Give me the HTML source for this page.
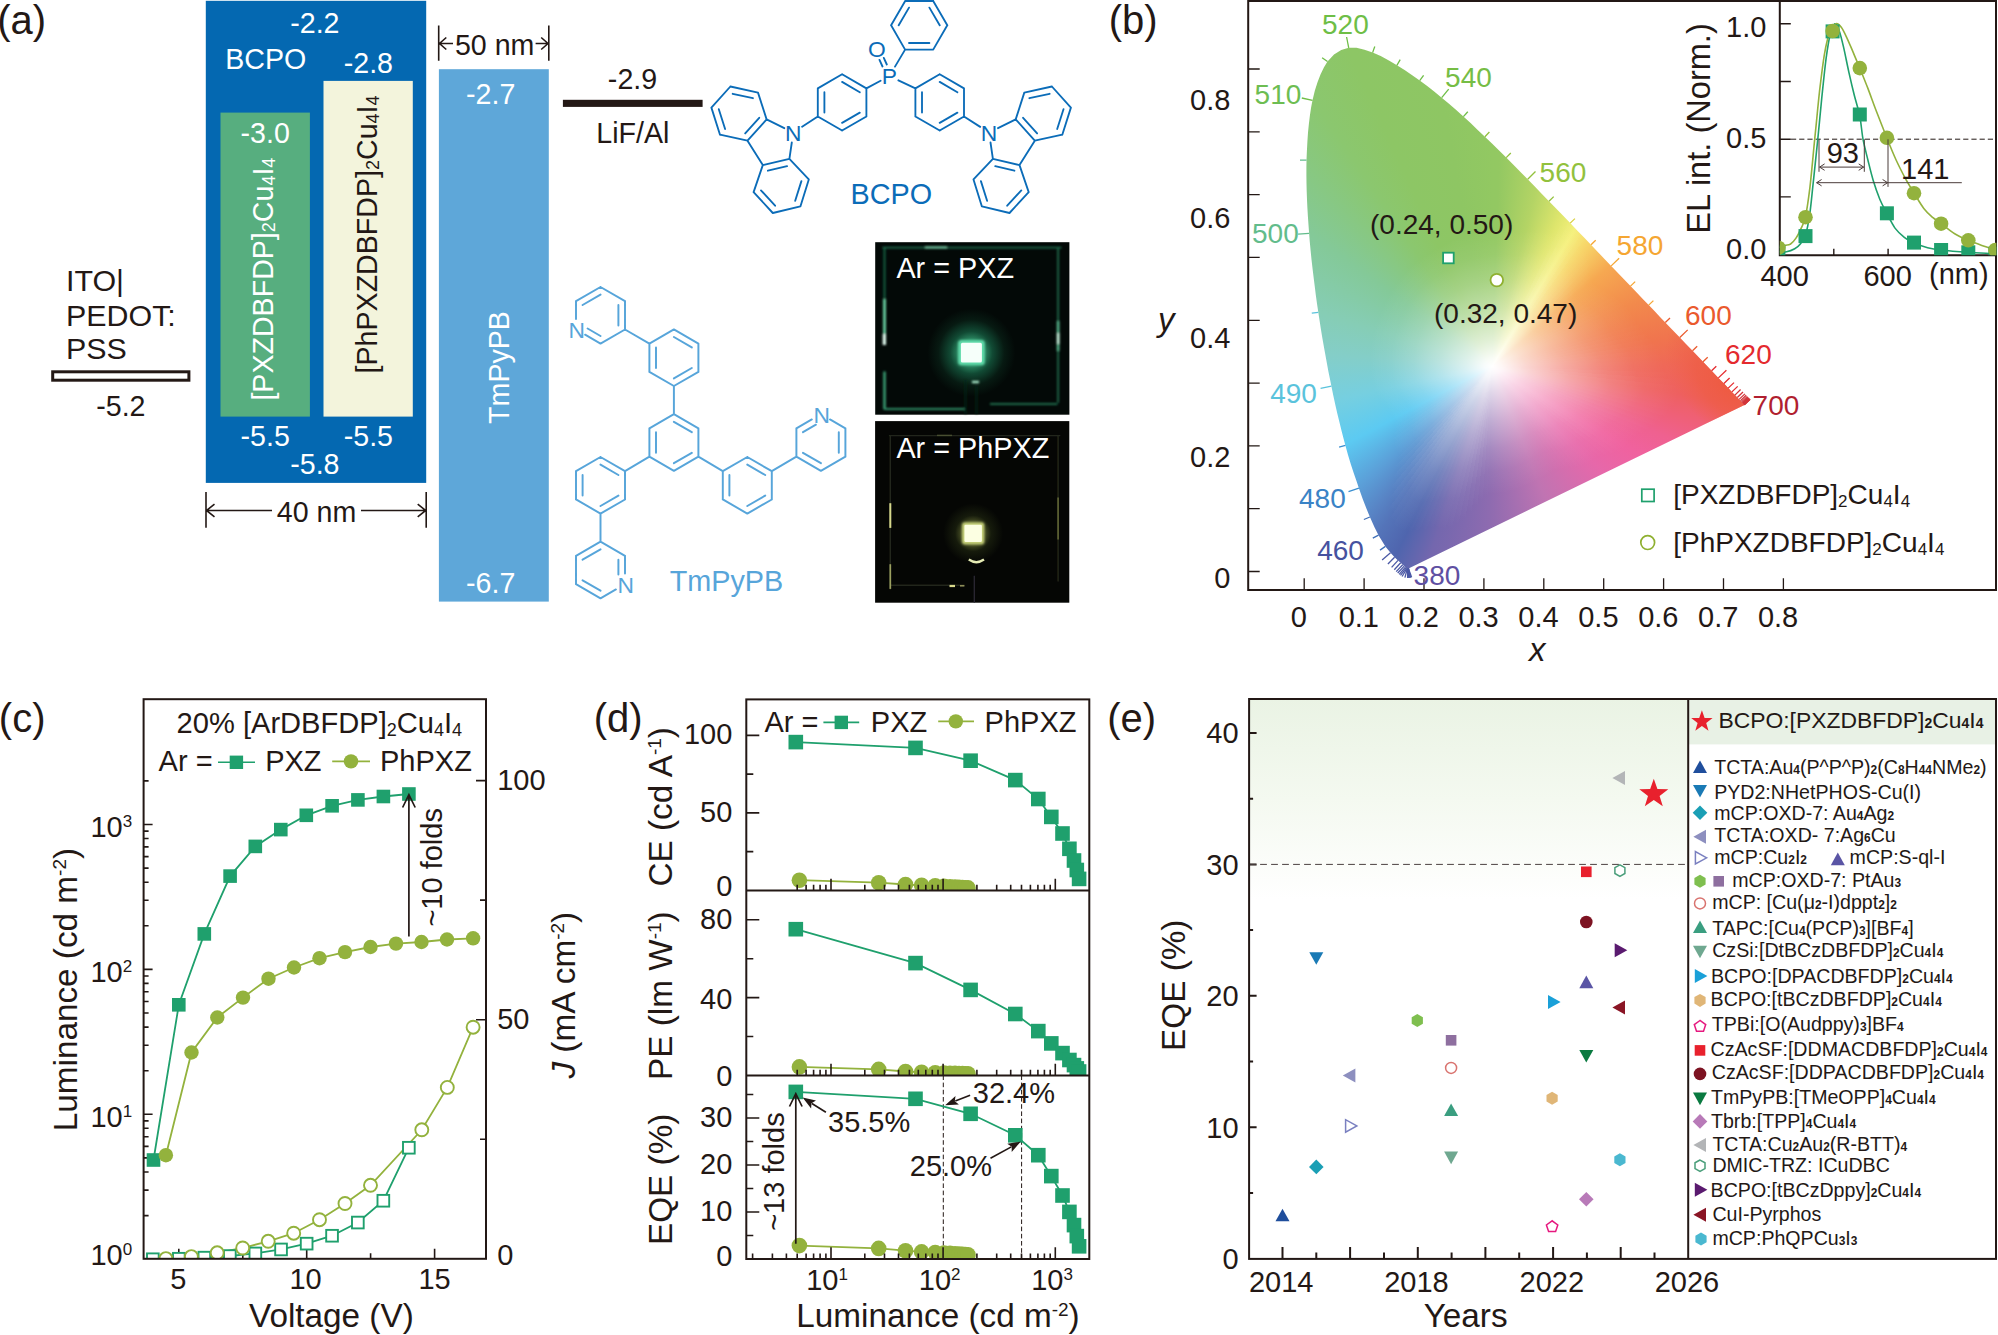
<!DOCTYPE html>
<html lang="en">
<head>
<meta charset="utf-8">
<title>Figure</title>
<style>
html,body{margin:0;padding:0;background:#fff}
body{width:1998px;height:1335px;position:relative;overflow:hidden}
svg{position:absolute;left:0;top:0}
text{font-family:"Liberation Sans",sans-serif}
</style>
</head>
<body>
<div style="position:absolute;left:1300px;top:40px;width:460px;height:540px;background:conic-gradient(from 0deg at 192px 326.5px,#92c862 0deg,#93c862 2deg,#b4d465 14deg,#dde56c 24deg,#f5f07a 31.2deg,#f7d468 38deg,#f6a851 49.5deg,#f28a4c 66deg,#f0744e 81deg,#ef6858 90deg,#ee6060 98.4deg,#ef6078 105deg,#ef6190 112deg,#f0629f 121deg,#e668aa 134deg,#c074b2 158deg,#8e6bb0 181deg,#7467ae 198deg,#4f65ae 207deg,#5474b9 214.1deg,#5884c5 219.3deg,#5b9fd8 227.8deg,#5ccaf2 242deg,#76cfe0 258deg,#84cec8 274deg,#86cdb5 287.5deg,#84c998 306.2deg,#8bc76f 326.1deg,#8dc665 335.8deg,#8ec663 349.4deg,#92c862 360deg);clip-path:polygon(108.5px 528.4px,108.4px 528.4px,108.3px 528.4px,108.2px 528.4px,108px 528.5px,107.8px 528.5px,107.6px 528.5px,107.3px 528.5px,106.9px 528.3px,106.2px 527.9px,105.4px 527.2px,104.2px 526.1px,102.7px 524.7px,100.7px 522.8px,98px 520.4px,94.6px 517.2px,90.5px 512.8px,85.4px 506.4px,78.5px 495.2px,74.5px 487.2px,69.9px 477px,66.5px 468.7px,62.8px 459.2px,58.9px 448.2px,56.4px 440.8px,53.7px 432.9px,50.9px 424.4px,48.1px 415.3px,45.4px 405.4px,43.4px 398px,41.4px 390.2px,39.4px 382px,37.3px 373.5px,35.3px 364.7px,33.3px 355.6px,31.4px 346.2px,29.9px 338.7px,28.3px 330.9px,26.8px 322.8px,25.3px 314.6px,23.8px 306.3px,22.3px 297.8px,20.9px 289.3px,19.6px 280.8px,18.3px 272.3px,17px 263.7px,15.8px 255px,14.7px 246.1px,13.6px 237.2px,12.5px 228.3px,11.5px 219.4px,10.6px 210.6px,9.8px 201.9px,9.1px 193.3px,8.5px 184.9px,7.9px 176.4px,7.4px 168px,7px 159.7px,6.7px 151.5px,6.5px 143.4px,6.4px 135.5px,6.4px 127.7px,6.5px 120.2px,6.9px 110.8px,7.4px 101.5px,8px 92.5px,8.9px 83.8px,9.9px 75.5px,11.1px 67.6px,12.5px 60.3px,14.8px 50.8px,17.6px 42px,20.6px 34.2px,24px 27.3px,27.5px 21.5px,34px 14.4px,41.2px 10.1px,48.7px 7.8px,56.5px 7.7px,64.5px 9.7px,72.6px 12.6px,80.7px 16.1px,88.9px 20.6px,96.9px 25.3px,104.6px 30.1px,112.2px 35.3px,119.7px 40.6px,127.2px 46.1px,134.5px 51.8px,141.7px 57.7px,149px 63.8px,156.2px 70.1px,163.4px 76.6px,170.6px 83.1px,177.7px 89.9px,184.9px 96.7px,192px 103.6px,199.1px 110.6px,206.2px 117.6px,213.4px 124.8px,220.5px 132px,227.7px 139.3px,234.8px 146.5px,241.9px 153.9px,249px 161.2px,256.1px 168.5px,263.2px 175.8px,270.2px 183.1px,277.2px 190.4px,284.1px 197.6px,291px 204.8px,297.8px 211.9px,304.5px 218.9px,311.2px 225.9px,317.7px 232.7px,324.2px 239.5px,330.5px 246.1px,336.7px 252.6px,342.8px 258.9px,348.7px 265.1px,354.5px 271.1px,360px 276.9px,365.3px 282.5px,372.8px 290.3px,379.8px 297.5px,386.4px 304.4px,392.5px 310.8px,403px 321.7px,411.6px 330.7px,418.4px 337.9px,423.9px 343.5px,428.2px 348.1px,431.9px 351.9px,434.9px 355.1px,437.3px 357.5px,439.1px 359.4px,440.5px 360.8px,441.5px 361.9px,442.1px 362.6px,442.7px 363.2px,443.1px 363.6px,443.5px 364px,443.9px 364.4px,444.1px 364.7px,444.2px 364.8px,444.3px 364.9px)"></div>
<svg width="1998" height="1335" viewBox="0 0 1998 1335" fill="#231815">
<g>
<text x="-2.8" y="34" font-size="40">(a)</text>
<rect x="205.8" y="0.8" width="220.4" height="482.1" fill="#0468b1"/>
<rect x="220.5" y="112.6" width="89.4" height="304" fill="#57ae7f"/>
<rect x="323.5" y="80.9" width="89.3" height="335.7" fill="#f3f4dc"/>
<rect x="438.9" y="69.2" width="109.9" height="532.4" fill="#5ea7d9"/>
<text x="314.9" y="32.9" font-size="28.6" text-anchor="middle" fill="#fff">-2.2</text>
<text x="225.3" y="68.5" font-size="28.6" fill="#fff">BCPO</text>
<text x="368.4" y="72.5" font-size="28.6" text-anchor="middle" fill="#fff">-2.8</text>
<text x="265.2" y="142.7" font-size="28.6" text-anchor="middle" fill="#fff">-3.0</text>
<text x="265.2" y="445.5" font-size="28.6" text-anchor="middle" fill="#fff">-5.5</text>
<text x="368.4" y="445.5" font-size="28.6" text-anchor="middle" fill="#fff">-5.5</text>
<text x="314.9" y="474.2" font-size="28.6" text-anchor="middle" fill="#fff">-5.8</text>
<text x="490.7" y="103.6" font-size="28.6" text-anchor="middle" fill="#fff">-2.7</text>
<text x="490.7" y="593.2" font-size="28.6" text-anchor="middle" fill="#fff">-6.7</text>
<text x="509" y="367.5" font-size="28.6" text-anchor="middle" fill="#fff" transform="rotate(-90 509 367.5)">TmPyPB</text>
<text x="273.4" y="400.6" font-size="28.6" fill="#fff" transform="rotate(-90 273.4 400.6)">[PXZDBFDP]<tspan font-size="18" baseline-shift="-2">2</tspan>Cu<tspan font-size="18" baseline-shift="-2">4</tspan>I<tspan font-size="18" baseline-shift="-2">4</tspan></text>
<text x="377.2" y="373.4" font-size="28.6" transform="rotate(-90 377.2 373.4)">[PhPXZDBFDP]<tspan font-size="18" baseline-shift="-2">2</tspan>Cu<tspan font-size="18" baseline-shift="-2">4</tspan>I<tspan font-size="18" baseline-shift="-2">4</tspan></text>
<text x="66" y="290.8" font-size="30.4">ITO|</text>
<text x="66" y="325.5" font-size="30.4">PEDOT:</text>
<text x="66" y="359.2" font-size="30.4">PSS</text>
<rect x="52.7" y="371.8" width="136.2" height="8.4" fill="#fff" stroke="#231815" stroke-width="3"/>
<text x="120.9" y="415.8" font-size="28.6" text-anchor="middle">-5.2</text>
<rect x="562.9" y="99.8" width="139.7" height="7.1" fill="#231815"/>
<text x="632.5" y="88.6" font-size="28.6" text-anchor="middle">-2.9</text>
<text x="632.8" y="142.6" font-size="28.6" text-anchor="middle">LiF/Al</text>
<path d="M206 492V527.8M426.2 492V527.8M206.5 510.5H272M361 510.5H425.7M214.5 504.2L206.5 510.5L214.5 516.8M417.7 504.2L425.7 510.5L417.7 516.8" stroke="#231815" stroke-width="1.6" fill="none"/>
<text x="316.5" y="522.4" font-size="28.6" text-anchor="middle">40 nm</text>
<path d="M438.7 25.5V60.8M548.8 25.5V60.8M439.5 43.5H453M535.6 43.5H548M446.3 37.5L439.5 43.5L446.3 49.5M541.2 37.5L548 43.5L541.2 49.5" stroke="#231815" stroke-width="1.6" fill="none"/>
<text x="494.7" y="54.8" font-size="28.6" text-anchor="middle">50 nm</text>
<path d="M947.3 25.3L933.2 1M939.7 25.3L929.4 7.6M933.2 1L905.2 1M905.2 1L891.1 25.3M909 7.6L898.7 25.3M891.1 25.3L905.1 49.6M905.1 49.6L933.2 49.6M909 43L929.4 43M933.2 49.6L947.3 25.3M895 66.6L905.1 49.6M882.5 66.5L879.5 59.9M886.8 64.5L883.8 57.9M842.1 74.3L817.8 88.4M817.8 88.4L817.8 116.5M824.4 92.2L824.4 112.6M817.8 116.5L842.1 130.5M842.1 130.5L866.4 116.5M842.1 122.9L859.8 112.6M866.4 116.5L866.4 88.4M866.4 88.4L842.1 74.3M859.8 92.2L842.1 81.9M880.6 80.7L866.4 88.4M817.8 116.5L802.1 126.8M939.7 74.3L915.4 88.4M915.4 88.4L915.4 116.5M922 92.2L922 112.6M915.4 116.5L939.7 130.5M939.7 130.5L964 116.5M939.7 122.9L957.4 112.6M964 116.5L964 88.4M964 88.4L939.7 74.3M957.4 92.2L939.7 81.9M898.4 80.3L915.4 88.4M964 116.5L980.2 126.9M784.3 128.2L766.6 119.4M747.5 140.7L762.8 165.1M789.4 158.8L791.8 142.5M766.6 119.4L758 92.6M758 92.6L730.4 86.5M752.9 98.2L732.7 93.8M730.4 86.5L711.4 107.6M711.4 107.6L720 134.7M718.8 109.2L725.1 129M720 134.7L747.5 140.7M747.5 140.7L766.6 119.4M745.2 133.4L759.2 117.8M762.8 165.1L789.4 158.8M767.9 170.7L787.1 166.1M789.4 158.8L808.8 179.4M808.8 179.4L800.4 206.4M801.4 181.1L795.2 200.8M800.4 206.4L772.8 213M772.8 213L753.6 192.1M775.1 205.7L761 190.4M753.6 192.1L762.8 165.1M998 128.2L1015.7 119.4M1034.8 140.7L1019.5 165.1M992.9 158.8L990.5 142.5M1015.7 119.4L1024.3 92.6M1024.3 92.6L1051.9 86.5M1029.4 98.2L1049.6 93.8M1051.9 86.5L1070.9 107.6M1070.9 107.6L1062.3 134.7M1063.5 109.2L1057.2 129M1062.3 134.7L1034.8 140.7M1034.8 140.7L1015.7 119.4M1037.1 133.4L1023.1 117.8M1019.5 165.1L992.9 158.8M1014.4 170.7L995.2 166.1M992.9 158.8L973.5 179.4M973.5 179.4L981.9 206.4M980.9 181.1L987.1 200.8M981.9 206.4L1009.5 213M1009.5 213L1028.7 192.1M1007.2 205.7L1021.3 190.4M1028.7 192.1L1019.5 165.1" stroke="#0b6cb8" stroke-width="1.85" fill="none" stroke-linecap="round"/>
<text x="889.4" y="84.2" font-size="22.8" text-anchor="middle" fill="#0b6cb8">P</text>
<text x="876.9" y="56.6" font-size="22.8" text-anchor="middle" fill="#0b6cb8">O</text>
<text x="793.3" y="140.8" font-size="22.8" text-anchor="middle" fill="#0b6cb8">N</text>
<text x="989" y="140.8" font-size="22.8" text-anchor="middle" fill="#0b6cb8">N</text>
<text x="891.3" y="203.6" font-size="28.8" text-anchor="middle" fill="#0b6cb8">BCPO</text>
<path d="M673.9 414.2L649.4 428.4M649.4 428.4L649.4 456.6M656 432.2L656 452.8M649.4 456.6L673.9 470.8M673.9 470.8L698.4 456.7M673.9 463.2L691.8 452.8M698.4 456.7L698.4 428.4M698.4 428.4L673.9 414.2M691.8 432.2L673.9 421.8M673.9 329.4L649.4 343.6M649.4 343.6L649.4 371.8M656 347.4L656 368M649.4 371.8L673.9 386M673.9 386L698.4 371.9M673.9 378.4L691.8 368M698.4 371.9L698.4 343.6M698.4 343.6L673.9 329.4M691.8 347.4L673.9 337M673.9 386L673.9 414.2M600.5 287L576 301.2M600.5 294.6L582.6 305M576 301.2L576 318.9M585.1 334.7L600.5 343.6M587.6 328.5L600.5 336M600.5 343.6L625 329.5M625 329.5L625 301.2M618.4 325.6L618.4 305M625 301.2L600.5 287M625 329.5L649.4 343.6M600.5 457L576 471.2M576 471.2L576 499.4M582.6 475L582.6 495.6M576 499.4L600.5 513.6M600.5 513.6L625 499.5M600.5 506L618.4 495.6M625 499.5L625 471.2M625 471.2L600.5 457M618.4 475L600.5 464.6M625 471.2L649.4 456.6M600.5 541.7L576 555.9M600.5 549.3L582.6 559.7M576 555.9L576 584.1M576 584.1L600.5 598.3M582.6 580.3L600.5 590.7M600.5 598.3L615.9 589.4M625 573.6L625 555.9M618.4 574.6L618.4 559.7M625 555.9L600.5 541.7M600.5 541.7L600.5 513.6M747.3 457L722.8 471.2M722.8 471.2L722.8 499.4M729.4 475L729.4 495.6M722.8 499.4L747.3 513.6M747.3 513.6L771.8 499.5M747.3 506L765.2 495.6M771.8 499.5L771.8 471.2M771.8 471.2L747.3 457M765.2 475L747.3 464.6M722.8 471.2L698.4 456.7M811.8 419.4L796.4 428.4M815.9 424.7L803 432.2M796.4 428.4L796.4 456.6M796.4 456.6L820.9 470.8M803 452.8L820.9 463.2M820.9 470.8L845.4 456.7M845.4 456.7L845.4 428.4M838.8 452.8L838.8 432.2M845.4 428.4L830 419.4M796.4 456.6L771.8 471.2" stroke="#57a5da" stroke-width="1.95" fill="none" stroke-linecap="round"/>
<text x="576.8" y="338.1" font-size="22.8" text-anchor="middle" fill="#57a5da">N</text>
<text x="625.8" y="592.8" font-size="22.8" text-anchor="middle" fill="#57a5da">N</text>
<text x="821.7" y="422.8" font-size="22.8" text-anchor="middle" fill="#57a5da">N</text>
<text x="726.5" y="591.2" font-size="28.8" text-anchor="middle" fill="#57a5da">TmPyPB</text>
<defs><radialGradient id="gA" cx="971.4" cy="352.6" r="44" gradientUnits="userSpaceOnUse"><stop offset="0" stop-color="#4fb88c"/><stop offset="0.3" stop-color="#2a8560"/><stop offset="0.48" stop-color="#114a34"/><stop offset="0.75" stop-color="#071a12"/><stop offset="1" stop-color="#030907"/></radialGradient><radialGradient id="gB" cx="973.1" cy="533.4" r="30" gradientUnits="userSpaceOnUse"><stop offset="0" stop-color="#8a9448"/><stop offset="0.36" stop-color="#4a5226"/><stop offset="0.6" stop-color="#161b0c"/><stop offset="1" stop-color="#050604"/></radialGradient><filter id="bl1" x="-20%" y="-20%" width="140%" height="140%"><feGaussianBlur stdDeviation="1.1"/></filter><filter id="bl2" x="-20%" y="-20%" width="140%" height="140%"><feGaussianBlur stdDeviation="0.7"/></filter></defs>
<rect x="875.2" y="242.2" width="194.2" height="172.5" fill="#030907"/>
<rect x="911" y="292" width="121" height="121" fill="url(#gA)"/>
<g filter="url(#bl1)" fill="none"><path d="M882.4 247.7H1061.5M1058.1 247.7V402.7M884.5 247.7V344M884.5 371V409H965M990 404H1057.4" stroke="#1f6a4c" stroke-width="1.8" fill="none"/>
<path d="M925 247.4H947" stroke="#7fd6ae" stroke-width="2" fill="none"/>
<path d="M884.5 299V345" stroke="#63c79b" stroke-width="3" fill="none"/>
<path d="M884.3 334V345" stroke="#e6fff4" stroke-width="3.2" fill="none"/>
<path d="M1058.1 321V351" stroke="#58b98f" stroke-width="2.6" fill="none"/>
<path d="M1058.1 333V344" stroke="#d6ffea" stroke-width="2.4" fill="none"/>
<path d="M884.5 372V409" stroke="#3fa87b" stroke-width="2.2" fill="none"/>
<path d="M884.5 408.9H964" stroke="#2f8a64" stroke-width="2" fill="none"/>
<path d="M972 382H979" stroke="#b6f5d6" stroke-width="2.2" fill="none"/>
<path d="M965.5 380V414M976.5 386V414" stroke="#10271d" stroke-width="1.6" fill="none"/>
</g>
<rect x="958" y="340" width="26.8" height="25.2" rx="3.5" fill="#5fd9a8" filter="url(#bl1)"/>
<rect x="960.9" y="342.8" width="21" height="19.7" rx="1.6" fill="#f6fffa" filter="url(#bl2)"/>
<text x="896.4" y="278.4" font-size="28.8" fill="#fff">Ar = PXZ</text>
<rect x="875.1" y="421.1" width="194.2" height="181.6" fill="#050604"/>
<rect x="943" y="503" width="60" height="60" fill="url(#gB)"/>
<g filter="url(#bl2)" fill="none"><path d="M888.9 435.6H1060.3M1058.1 435.6V581.6M890.3 435.6V589.6M890.3 585.3H964.4" stroke="#23271a" stroke-width="1.4" fill="none"/>
<path d="M937 435.4H952" stroke="#4a5030" stroke-width="1.4" fill="none"/>
<path d="M890.3 503.2V527.9" stroke="#d6d88c" stroke-width="2" fill="none"/>
<path d="M890.3 564.2V588.9" stroke="#9ca060" stroke-width="1.7" fill="none"/>
<path d="M1058.1 497.4V539.5" stroke="#5c6134" stroke-width="1.7" fill="none"/>
<path d="M949.5 586H955" stroke="#d9d98c" stroke-width="2.2" fill="none"/>
<path d="M960 585.8H964.4" stroke="#8c8c58" stroke-width="1.6" fill="none"/>
<path d="M974.3 575.8V602.7" stroke="#2c2a36" stroke-width="1.2" fill="none"/>
<path d="M968.8 559.6Q976.4 564.8 984 559.6" stroke="#e6ecb4" stroke-width="2.4" fill="none"/>
</g>
<rect x="962" y="522.3" width="22.3" height="22.2" rx="3" fill="#c4cf78" filter="url(#bl1)"/>
<rect x="964.4" y="524.7" width="17.5" height="17.4" rx="1.4" fill="#fcffe2" filter="url(#bl2)"/>
<text x="896.4" y="457.8" font-size="28.8" fill="#fff">Ar = PhPXZ</text>
</g>
<g>
<defs><clipPath id="cpL"><path d="M1408.5 568.4L1408.4 568.4L1408.3 568.4L1408.2 568.4L1408 568.5L1407.8 568.5L1407.6 568.5L1407.3 568.5L1406.9 568.3L1406.2 567.9L1405.4 567.2L1404.2 566.1L1402.7 564.7L1400.7 562.8L1398 560.4L1394.6 557.2L1390.5 552.8L1385.4 546.4L1378.5 535.2L1374.5 527.2L1369.9 517L1366.5 508.7L1362.8 499.2L1358.9 488.2L1356.4 480.8L1353.7 472.9L1350.9 464.4L1348.1 455.3L1345.4 445.4L1343.4 438L1341.4 430.2L1339.4 422L1337.3 413.5L1335.3 404.7L1333.3 395.6L1331.4 386.2L1329.9 378.7L1328.3 370.9L1326.8 362.8L1325.3 354.6L1323.8 346.3L1322.3 337.8L1320.9 329.3L1319.6 320.8L1318.3 312.3L1317 303.7L1315.8 295L1314.7 286.1L1313.6 277.2L1312.5 268.3L1311.5 259.4L1310.6 250.6L1309.8 241.9L1309.1 233.3L1308.5 224.9L1307.9 216.4L1307.4 208L1307 199.7L1306.7 191.5L1306.5 183.4L1306.4 175.5L1306.4 167.7L1306.5 160.2L1306.9 150.8L1307.4 141.5L1308 132.5L1308.9 123.8L1309.9 115.5L1311.1 107.6L1312.5 100.3L1314.8 90.8L1317.6 82L1320.6 74.2L1324 67.3L1327.5 61.5L1334 54.4L1341.2 50.1L1348.7 47.8L1356.5 47.7L1364.5 49.7L1372.6 52.6L1380.7 56.1L1388.9 60.6L1396.9 65.3L1404.6 70.1L1412.2 75.3L1419.7 80.6L1427.2 86.1L1434.5 91.8L1441.7 97.7L1449 103.8L1456.2 110.1L1463.4 116.6L1470.6 123.1L1477.7 129.9L1484.9 136.7L1492 143.6L1499.1 150.6L1506.2 157.6L1513.4 164.8L1520.5 172L1527.7 179.3L1534.8 186.5L1541.9 193.9L1549 201.2L1556.1 208.5L1563.2 215.8L1570.2 223.1L1577.2 230.4L1584.1 237.6L1591 244.8L1597.8 251.9L1604.5 258.9L1611.2 265.9L1617.7 272.7L1624.2 279.5L1630.5 286.1L1636.7 292.6L1642.8 298.9L1648.7 305.1L1654.5 311.1L1660 316.9L1665.3 322.5L1672.8 330.3L1679.8 337.5L1686.4 344.4L1692.5 350.8L1703 361.7L1711.6 370.7L1718.4 377.9L1723.9 383.5L1728.2 388.1L1731.9 391.9L1734.9 395.1L1737.3 397.5L1739.1 399.4L1740.5 400.8L1741.5 401.9L1742.1 402.6L1742.7 403.2L1743.1 403.6L1743.5 404L1743.9 404.4L1744.1 404.7L1744.2 404.8L1744.3 404.9Z"/></clipPath>
<linearGradient id="wb" gradientUnits="userSpaceOnUse" x1="1492" y1="366.5" x2="0" y2="0"><stop offset="0" stop-color="#fff" stop-opacity="1"/><stop offset="0.06" stop-color="#fff" stop-opacity="0.94"/><stop offset="0.2" stop-color="#fff" stop-opacity="0.73"/><stop offset="0.42" stop-color="#fff" stop-opacity="0.45"/><stop offset="0.64" stop-color="#fff" stop-opacity="0.21"/><stop offset="0.82" stop-color="#fff" stop-opacity="0.07"/><stop offset="1" stop-color="#fff" stop-opacity="0"/></linearGradient>
<linearGradient id="w0" href="#wb" x2="1663.8" y2="363.5"/><linearGradient id="w1" href="#wb" x2="1662.4" y2="357.6"/><linearGradient id="w2" href="#wb" x2="1659.9" y2="351.8"/><linearGradient id="w3" href="#wb" x2="1656.6" y2="346.3"/><linearGradient id="w4" href="#wb" x2="1652.6" y2="341.1"/><linearGradient id="w5" href="#wb" x2="1648.4" y2="336.1"/><linearGradient id="w6" href="#wb" x2="1644.2" y2="331.4"/><linearGradient id="w7" href="#wb" x2="1640.2" y2="326.8"/><linearGradient id="w8" href="#wb" x2="1636.7" y2="322.3"/><linearGradient id="w9" href="#wb" x2="1634" y2="317.6"/><linearGradient id="w10" href="#wb" x2="1631.9" y2="312.8"/><linearGradient id="w11" href="#wb" x2="1629.1" y2="308.3"/><linearGradient id="w12" href="#wb" x2="1625.4" y2="304.3"/><linearGradient id="w13" href="#wb" x2="1621.1" y2="300.7"/><linearGradient id="w14" href="#wb" x2="1616.5" y2="297.5"/><linearGradient id="w15" href="#wb" x2="1611.7" y2="294.6"/><linearGradient id="w16" href="#wb" x2="1607" y2="291.8"/><linearGradient id="w17" href="#wb" x2="1602.4" y2="289.2"/><linearGradient id="w18" href="#wb" x2="1598.3" y2="286.4"/><linearGradient id="w19" href="#wb" x2="1594.7" y2="283.3"/><linearGradient id="w20" href="#wb" x2="1591.9" y2="279.7"/><linearGradient id="w21" href="#wb" x2="1590.6" y2="274.6"/><linearGradient id="w22" href="#wb" x2="1590.1" y2="268.4"/><linearGradient id="w23" href="#wb" x2="1589.7" y2="261.7"/><linearGradient id="w24" href="#wb" x2="1588.6" y2="255.4"/><linearGradient id="w25" href="#wb" x2="1586.2" y2="250.2"/><linearGradient id="w26" href="#wb" x2="1583" y2="245.7"/><linearGradient id="w27" href="#wb" x2="1583.2" y2="236.2"/><linearGradient id="w28" href="#wb" x2="1583.6" y2="225.4"/><linearGradient id="w29" href="#wb" x2="1580.6" y2="219.1"/><linearGradient id="w30" href="#wb" x2="1573" y2="220.4"/><linearGradient id="w31" href="#wb" x2="1563.9" y2="225.5"/><linearGradient id="w32" href="#wb" x2="1555.9" y2="229.5"/><linearGradient id="w33" href="#wb" x2="1550.5" y2="228.6"/><linearGradient id="w34" href="#wb" x2="1545.2" y2="227.8"/><linearGradient id="w35" href="#wb" x2="1539.7" y2="228"/><linearGradient id="w36" href="#wb" x2="1534.1" y2="228.8"/><linearGradient id="w37" href="#wb" x2="1528.6" y2="229.8"/><linearGradient id="w38" href="#wb" x2="1523.4" y2="230.7"/><linearGradient id="w39" href="#wb" x2="1518.4" y2="230.9"/><linearGradient id="w40" href="#wb" x2="1513.6" y2="230.2"/><linearGradient id="w41" href="#wb" x2="1508.8" y2="229.8"/><linearGradient id="w42" href="#wb" x2="1504" y2="229.6"/><linearGradient id="w43" href="#wb" x2="1499.2" y2="229.8"/><linearGradient id="w44" href="#wb" x2="1494.4" y2="230.2"/><linearGradient id="w45" href="#wb" x2="1489.6" y2="230.8"/><linearGradient id="w46" href="#wb" x2="1484.9" y2="231.6"/><linearGradient id="w47" href="#wb" x2="1480.3" y2="232.4"/><linearGradient id="w48" href="#wb" x2="1475.6" y2="233.3"/><linearGradient id="w49" href="#wb" x2="1471" y2="234.1"/><linearGradient id="w50" href="#wb" x2="1466.4" y2="235"/><linearGradient id="w51" href="#wb" x2="1461.9" y2="236.2"/><linearGradient id="w52" href="#wb" x2="1457.5" y2="237.7"/><linearGradient id="w53" href="#wb" x2="1453.2" y2="239.4"/><linearGradient id="w54" href="#wb" x2="1448.9" y2="241.4"/><linearGradient id="w55" href="#wb" x2="1444.8" y2="243.5"/><linearGradient id="w56" href="#wb" x2="1440.8" y2="245.8"/><linearGradient id="w57" href="#wb" x2="1436.8" y2="248.1"/><linearGradient id="w58" href="#wb" x2="1432.9" y2="250.5"/><linearGradient id="w59" href="#wb" x2="1429" y2="252.8"/><linearGradient id="w60" href="#wb" x2="1425.1" y2="255.1"/><linearGradient id="w61" href="#wb" x2="1421.2" y2="257.6"/><linearGradient id="w62" href="#wb" x2="1417.6" y2="260.2"/><linearGradient id="w63" href="#wb" x2="1414.1" y2="263.1"/><linearGradient id="w64" href="#wb" x2="1410.7" y2="266.1"/><linearGradient id="w65" href="#wb" x2="1407.4" y2="269.2"/><linearGradient id="w66" href="#wb" x2="1404.4" y2="272.5"/><linearGradient id="w67" href="#wb" x2="1401.4" y2="275.9"/><linearGradient id="w68" href="#wb" x2="1398.6" y2="279.4"/><linearGradient id="w69" href="#wb" x2="1396" y2="283"/><linearGradient id="w70" href="#wb" x2="1393.5" y2="286.7"/><linearGradient id="w71" href="#wb" x2="1391.1" y2="290.5"/><linearGradient id="w72" href="#wb" x2="1388.9" y2="294.3"/><linearGradient id="w73" href="#wb" x2="1386.8" y2="298.2"/><linearGradient id="w74" href="#wb" x2="1384.8" y2="302.1"/><linearGradient id="w75" href="#wb" x2="1382.9" y2="306"/><linearGradient id="w76" href="#wb" x2="1381.1" y2="310"/><linearGradient id="w77" href="#wb" x2="1379.4" y2="314"/><linearGradient id="w78" href="#wb" x2="1377.8" y2="318"/><linearGradient id="w79" href="#wb" x2="1376.2" y2="322.1"/><linearGradient id="w80" href="#wb" x2="1374.8" y2="326.1"/><linearGradient id="w81" href="#wb" x2="1373.5" y2="330.3"/><linearGradient id="w82" href="#wb" x2="1372.4" y2="334.5"/><linearGradient id="w83" href="#wb" x2="1371.6" y2="338.7"/><linearGradient id="w84" href="#wb" x2="1370.9" y2="343"/><linearGradient id="w85" href="#wb" x2="1370.3" y2="347.2"/><linearGradient id="w86" href="#wb" x2="1370" y2="351.5"/><linearGradient id="w87" href="#wb" x2="1369.8" y2="355.8"/><linearGradient id="w88" href="#wb" x2="1369.7" y2="360.1"/><linearGradient id="w89" href="#wb" x2="1369.7" y2="364.4"/><linearGradient id="w90" href="#wb" x2="1369.9" y2="368.6"/><linearGradient id="w91" href="#wb" x2="1370.1" y2="372.9"/><linearGradient id="w92" href="#wb" x2="1370.5" y2="377.1"/><linearGradient id="w93" href="#wb" x2="1371.1" y2="381.3"/><linearGradient id="w94" href="#wb" x2="1372.3" y2="385.5"/><linearGradient id="w95" href="#wb" x2="1373.9" y2="389.5"/><linearGradient id="w96" href="#wb" x2="1375.8" y2="393.3"/><linearGradient id="w97" href="#wb" x2="1378" y2="397"/><linearGradient id="w98" href="#wb" x2="1380.4" y2="400.6"/><linearGradient id="w99" href="#wb" x2="1382.9" y2="404.1"/><linearGradient id="w100" href="#wb" x2="1385.4" y2="407.4"/><linearGradient id="w101" href="#wb" x2="1387.8" y2="410.7"/><linearGradient id="w102" href="#wb" x2="1390.1" y2="414"/><linearGradient id="w103" href="#wb" x2="1392.2" y2="417.4"/><linearGradient id="w104" href="#wb" x2="1393.8" y2="420.9"/><linearGradient id="w105" href="#wb" x2="1394.4" y2="425.2"/><linearGradient id="w106" href="#wb" x2="1394.2" y2="430"/><linearGradient id="w107" href="#wb" x2="1393.7" y2="435.3"/><linearGradient id="w108" href="#wb" x2="1393.5" y2="440.7"/><linearGradient id="w109" href="#wb" x2="1394" y2="445.9"/><linearGradient id="w110" href="#wb" x2="1395.6" y2="450.3"/><linearGradient id="w111" href="#wb" x2="1398" y2="454.2"/><linearGradient id="w112" href="#wb" x2="1398.3" y2="460.2"/><linearGradient id="w113" href="#wb" x2="1397" y2="468.4"/><linearGradient id="w114" href="#wb" x2="1394.8" y2="478.3"/><linearGradient id="w115" href="#wb" x2="1392.6" y2="489.3"/><linearGradient id="w116" href="#wb" x2="1391" y2="500.5"/><linearGradient id="w117" href="#wb" x2="1390.7" y2="511.2"/><linearGradient id="w118" href="#wb" x2="1392" y2="520.4"/><linearGradient id="w119" href="#wb" x2="1395.4" y2="527.2"/><linearGradient id="w120" href="#wb" x2="1401" y2="530.6"/><linearGradient id="w121" href="#wb" x2="1407.9" y2="531.5"/><linearGradient id="w122" href="#wb" x2="1415.4" y2="530.7"/><linearGradient id="w123" href="#wb" x2="1422.9" y2="529.2"/><linearGradient id="w124" href="#wb" x2="1430.1" y2="527.8"/><linearGradient id="w125" href="#wb" x2="1436.5" y2="527.6"/><linearGradient id="w126" href="#wb" x2="1442.4" y2="528.7"/><linearGradient id="w127" href="#wb" x2="1448.9" y2="527.4"/><linearGradient id="w128" href="#wb" x2="1455.7" y2="523.6"/><linearGradient id="w129" href="#wb" x2="1462.5" y2="518.2"/><linearGradient id="w130" href="#wb" x2="1469" y2="511.8"/><linearGradient id="w131" href="#wb" x2="1474.9" y2="505.5"/><linearGradient id="w132" href="#wb" x2="1480.3" y2="499.9"/><linearGradient id="w133" href="#wb" x2="1485.2" y2="495.9"/><linearGradient id="w134" href="#wb" x2="1489.8" y2="494.5"/><linearGradient id="w135" href="#wb" x2="1494.2" y2="494.4"/><linearGradient id="w136" href="#wb" x2="1498.7" y2="494.1"/><linearGradient id="w137" href="#wb" x2="1503.1" y2="493.4"/><linearGradient id="w138" href="#wb" x2="1507.5" y2="492.6"/><linearGradient id="w139" href="#wb" x2="1511.8" y2="491.5"/><linearGradient id="w140" href="#wb" x2="1516" y2="490.2"/><linearGradient id="w141" href="#wb" x2="1520.2" y2="488.7"/><linearGradient id="w142" href="#wb" x2="1524.3" y2="487.1"/><linearGradient id="w143" href="#wb" x2="1528.3" y2="485.4"/><linearGradient id="w144" href="#wb" x2="1532.3" y2="483.5"/><linearGradient id="w145" href="#wb" x2="1536.2" y2="481.5"/><linearGradient id="w146" href="#wb" x2="1540" y2="479.5"/><linearGradient id="w147" href="#wb" x2="1543.7" y2="477.4"/><linearGradient id="w148" href="#wb" x2="1547.5" y2="475.3"/><linearGradient id="w149" href="#wb" x2="1551.2" y2="473.2"/><linearGradient id="w150" href="#wb" x2="1554.9" y2="471.2"/><linearGradient id="w151" href="#wb" x2="1559.1" y2="469.8"/><linearGradient id="w152" href="#wb" x2="1563.7" y2="468.9"/><linearGradient id="w153" href="#wb" x2="1568.7" y2="468.2"/><linearGradient id="w154" href="#wb" x2="1573.8" y2="467.5"/><linearGradient id="w155" href="#wb" x2="1579" y2="466.6"/><linearGradient id="w156" href="#wb" x2="1584.1" y2="465.2"/><linearGradient id="w157" href="#wb" x2="1588.7" y2="463.2"/><linearGradient id="w158" href="#wb" x2="1592.8" y2="460.5"/><linearGradient id="w159" href="#wb" x2="1596.5" y2="457.3"/><linearGradient id="w160" href="#wb" x2="1601.8" y2="455.4"/><linearGradient id="w161" href="#wb" x2="1608.4" y2="454.2"/><linearGradient id="w162" href="#wb" x2="1615.4" y2="452.9"/><linearGradient id="w163" href="#wb" x2="1621.5" y2="450.6"/><linearGradient id="w164" href="#wb" x2="1625.7" y2="446.8"/><linearGradient id="w165" href="#wb" x2="1629.1" y2="442.5"/><linearGradient id="w166" href="#wb" x2="1633.5" y2="438.6"/><linearGradient id="w167" href="#wb" x2="1638.7" y2="434.9"/><linearGradient id="w168" href="#wb" x2="1644.5" y2="431.2"/><linearGradient id="w169" href="#wb" x2="1650.5" y2="427.4"/><linearGradient id="w170" href="#wb" x2="1656.7" y2="423.2"/><linearGradient id="w171" href="#wb" x2="1662.6" y2="418.7"/><linearGradient id="w172" href="#wb" x2="1668" y2="413.6"/><linearGradient id="w173" href="#wb" x2="1672.5" y2="408.2"/><linearGradient id="w174" href="#wb" x2="1675.8" y2="402.2"/><linearGradient id="w175" href="#wb" x2="1677.7" y2="395.9"/><linearGradient id="w176" href="#wb" x2="1676.6" y2="389.2"/><linearGradient id="w177" href="#wb" x2="1672.6" y2="382.3"/><linearGradient id="w178" href="#wb" x2="1667.9" y2="375.7"/><linearGradient id="w179" href="#wb" x2="1664.5" y2="369.5"/></defs>
<g clip-path="url(#cpL)" shape-rendering="crispEdges">
<path d="M1492 366.5L1722 366.5L1721.9 358.5Z" fill="url(#w0)"/><path d="M1492 366.5L1721.9 358.5L1721.4 350.5Z" fill="url(#w1)"/><path d="M1492 366.5L1721.4 350.5L1720.7 342.5Z" fill="url(#w2)"/><path d="M1492 366.5L1720.7 342.5L1719.8 334.5Z" fill="url(#w3)"/><path d="M1492 366.5L1719.8 334.5L1718.5 326.6Z" fill="url(#w4)"/><path d="M1492 366.5L1718.5 326.6L1717 318.7Z" fill="url(#w5)"/><path d="M1492 366.5L1717 318.7L1715.2 310.9Z" fill="url(#w6)"/><path d="M1492 366.5L1715.2 310.9L1713.1 303.1Z" fill="url(#w7)"/><path d="M1492 366.5L1713.1 303.1L1710.7 295.4Z" fill="url(#w8)"/><path d="M1492 366.5L1710.7 295.4L1708.1 287.8Z" fill="url(#w9)"/><path d="M1492 366.5L1708.1 287.8L1705.3 280.3Z" fill="url(#w10)"/><path d="M1492 366.5L1705.3 280.3L1702.1 273Z" fill="url(#w11)"/><path d="M1492 366.5L1702.1 273L1698.7 265.7Z" fill="url(#w12)"/><path d="M1492 366.5L1698.7 265.7L1695.1 258.5Z" fill="url(#w13)"/><path d="M1492 366.5L1695.1 258.5L1691.2 251.5Z" fill="url(#w14)"/><path d="M1492 366.5L1691.2 251.5L1687.1 244.6Z" fill="url(#w15)"/><path d="M1492 366.5L1687.1 244.6L1682.7 237.9Z" fill="url(#w16)"/><path d="M1492 366.5L1682.7 237.9L1678.1 231.3Z" fill="url(#w17)"/><path d="M1492 366.5L1678.1 231.3L1673.2 224.9Z" fill="url(#w18)"/><path d="M1492 366.5L1673.2 224.9L1668.2 218.7Z" fill="url(#w19)"/><path d="M1492 366.5L1668.2 218.7L1662.9 212.6Z" fill="url(#w20)"/><path d="M1492 366.5L1662.9 212.6L1657.4 206.7Z" fill="url(#w21)"/><path d="M1492 366.5L1657.4 206.7L1651.8 201.1Z" fill="url(#w22)"/><path d="M1492 366.5L1651.8 201.1L1645.9 195.6Z" fill="url(#w23)"/><path d="M1492 366.5L1645.9 195.6L1639.8 190.3Z" fill="url(#w24)"/><path d="M1492 366.5L1639.8 190.3L1633.6 185.3Z" fill="url(#w25)"/><path d="M1492 366.5L1633.6 185.3L1627.2 180.4Z" fill="url(#w26)"/><path d="M1492 366.5L1627.2 180.4L1620.6 175.8Z" fill="url(#w27)"/><path d="M1492 366.5L1620.6 175.8L1613.9 171.4Z" fill="url(#w28)"/><path d="M1492 366.5L1613.9 171.4L1607 167.3Z" fill="url(#w29)"/><path d="M1492 366.5L1607 167.3L1600 163.4Z" fill="url(#w30)"/><path d="M1492 366.5L1600 163.4L1592.8 159.8Z" fill="url(#w31)"/><path d="M1492 366.5L1592.8 159.8L1585.5 156.4Z" fill="url(#w32)"/><path d="M1492 366.5L1585.5 156.4L1578.2 153.2Z" fill="url(#w33)"/><path d="M1492 366.5L1578.2 153.2L1570.7 150.4Z" fill="url(#w34)"/><path d="M1492 366.5L1570.7 150.4L1563.1 147.8Z" fill="url(#w35)"/><path d="M1492 366.5L1563.1 147.8L1555.4 145.4Z" fill="url(#w36)"/><path d="M1492 366.5L1555.4 145.4L1547.6 143.3Z" fill="url(#w37)"/><path d="M1492 366.5L1547.6 143.3L1539.8 141.5Z" fill="url(#w38)"/><path d="M1492 366.5L1539.8 141.5L1531.9 140Z" fill="url(#w39)"/><path d="M1492 366.5L1531.9 140L1524 138.7Z" fill="url(#w40)"/><path d="M1492 366.5L1524 138.7L1516 137.8Z" fill="url(#w41)"/><path d="M1492 366.5L1516 137.8L1508 137.1Z" fill="url(#w42)"/><path d="M1492 366.5L1508 137.1L1500 136.6Z" fill="url(#w43)"/><path d="M1492 366.5L1500 136.6L1492 136.5Z" fill="url(#w44)"/><path d="M1492 366.5L1492 136.5L1484 136.6Z" fill="url(#w45)"/><path d="M1492 366.5L1484 136.6L1476 137.1Z" fill="url(#w46)"/><path d="M1492 366.5L1476 137.1L1468 137.8Z" fill="url(#w47)"/><path d="M1492 366.5L1468 137.8L1460 138.7Z" fill="url(#w48)"/><path d="M1492 366.5L1460 138.7L1452.1 140Z" fill="url(#w49)"/><path d="M1492 366.5L1452.1 140L1444.2 141.5Z" fill="url(#w50)"/><path d="M1492 366.5L1444.2 141.5L1436.4 143.3Z" fill="url(#w51)"/><path d="M1492 366.5L1436.4 143.3L1428.6 145.4Z" fill="url(#w52)"/><path d="M1492 366.5L1428.6 145.4L1420.9 147.8Z" fill="url(#w53)"/><path d="M1492 366.5L1420.9 147.8L1413.3 150.4Z" fill="url(#w54)"/><path d="M1492 366.5L1413.3 150.4L1405.8 153.2Z" fill="url(#w55)"/><path d="M1492 366.5L1405.8 153.2L1398.5 156.4Z" fill="url(#w56)"/><path d="M1492 366.5L1398.5 156.4L1391.2 159.8Z" fill="url(#w57)"/><path d="M1492 366.5L1391.2 159.8L1384 163.4Z" fill="url(#w58)"/><path d="M1492 366.5L1384 163.4L1377 167.3Z" fill="url(#w59)"/><path d="M1492 366.5L1377 167.3L1370.1 171.4Z" fill="url(#w60)"/><path d="M1492 366.5L1370.1 171.4L1363.4 175.8Z" fill="url(#w61)"/><path d="M1492 366.5L1363.4 175.8L1356.8 180.4Z" fill="url(#w62)"/><path d="M1492 366.5L1356.8 180.4L1350.4 185.3Z" fill="url(#w63)"/><path d="M1492 366.5L1350.4 185.3L1344.2 190.3Z" fill="url(#w64)"/><path d="M1492 366.5L1344.2 190.3L1338.1 195.6Z" fill="url(#w65)"/><path d="M1492 366.5L1338.1 195.6L1332.2 201.1Z" fill="url(#w66)"/><path d="M1492 366.5L1332.2 201.1L1326.6 206.7Z" fill="url(#w67)"/><path d="M1492 366.5L1326.6 206.7L1321.1 212.6Z" fill="url(#w68)"/><path d="M1492 366.5L1321.1 212.6L1315.8 218.7Z" fill="url(#w69)"/><path d="M1492 366.5L1315.8 218.7L1310.8 224.9Z" fill="url(#w70)"/><path d="M1492 366.5L1310.8 224.9L1305.9 231.3Z" fill="url(#w71)"/><path d="M1492 366.5L1305.9 231.3L1301.3 237.9Z" fill="url(#w72)"/><path d="M1492 366.5L1301.3 237.9L1296.9 244.6Z" fill="url(#w73)"/><path d="M1492 366.5L1296.9 244.6L1292.8 251.5Z" fill="url(#w74)"/><path d="M1492 366.5L1292.8 251.5L1288.9 258.5Z" fill="url(#w75)"/><path d="M1492 366.5L1288.9 258.5L1285.3 265.7Z" fill="url(#w76)"/><path d="M1492 366.5L1285.3 265.7L1281.9 273Z" fill="url(#w77)"/><path d="M1492 366.5L1281.9 273L1278.7 280.3Z" fill="url(#w78)"/><path d="M1492 366.5L1278.7 280.3L1275.9 287.8Z" fill="url(#w79)"/><path d="M1492 366.5L1275.9 287.8L1273.3 295.4Z" fill="url(#w80)"/><path d="M1492 366.5L1273.3 295.4L1270.9 303.1Z" fill="url(#w81)"/><path d="M1492 366.5L1270.9 303.1L1268.8 310.9Z" fill="url(#w82)"/><path d="M1492 366.5L1268.8 310.9L1267 318.7Z" fill="url(#w83)"/><path d="M1492 366.5L1267 318.7L1265.5 326.6Z" fill="url(#w84)"/><path d="M1492 366.5L1265.5 326.6L1264.2 334.5Z" fill="url(#w85)"/><path d="M1492 366.5L1264.2 334.5L1263.3 342.5Z" fill="url(#w86)"/><path d="M1492 366.5L1263.3 342.5L1262.6 350.5Z" fill="url(#w87)"/><path d="M1492 366.5L1262.6 350.5L1262.1 358.5Z" fill="url(#w88)"/><path d="M1492 366.5L1262.1 358.5L1262 366.5Z" fill="url(#w89)"/><path d="M1492 366.5L1262 366.5L1262.1 374.5Z" fill="url(#w90)"/><path d="M1492 366.5L1262.1 374.5L1262.6 382.5Z" fill="url(#w91)"/><path d="M1492 366.5L1262.6 382.5L1263.3 390.5Z" fill="url(#w92)"/><path d="M1492 366.5L1263.3 390.5L1264.2 398.5Z" fill="url(#w93)"/><path d="M1492 366.5L1264.2 398.5L1265.5 406.4Z" fill="url(#w94)"/><path d="M1492 366.5L1265.5 406.4L1267 414.3Z" fill="url(#w95)"/><path d="M1492 366.5L1267 414.3L1268.8 422.1Z" fill="url(#w96)"/><path d="M1492 366.5L1268.8 422.1L1270.9 429.9Z" fill="url(#w97)"/><path d="M1492 366.5L1270.9 429.9L1273.3 437.6Z" fill="url(#w98)"/><path d="M1492 366.5L1273.3 437.6L1275.9 445.2Z" fill="url(#w99)"/><path d="M1492 366.5L1275.9 445.2L1278.7 452.7Z" fill="url(#w100)"/><path d="M1492 366.5L1278.7 452.7L1281.9 460Z" fill="url(#w101)"/><path d="M1492 366.5L1281.9 460L1285.3 467.3Z" fill="url(#w102)"/><path d="M1492 366.5L1285.3 467.3L1288.9 474.5Z" fill="url(#w103)"/><path d="M1492 366.5L1288.9 474.5L1292.8 481.5Z" fill="url(#w104)"/><path d="M1492 366.5L1292.8 481.5L1296.9 488.4Z" fill="url(#w105)"/><path d="M1492 366.5L1296.9 488.4L1301.3 495.1Z" fill="url(#w106)"/><path d="M1492 366.5L1301.3 495.1L1305.9 501.7Z" fill="url(#w107)"/><path d="M1492 366.5L1305.9 501.7L1310.8 508.1Z" fill="url(#w108)"/><path d="M1492 366.5L1310.8 508.1L1315.8 514.3Z" fill="url(#w109)"/><path d="M1492 366.5L1315.8 514.3L1321.1 520.4Z" fill="url(#w110)"/><path d="M1492 366.5L1321.1 520.4L1326.6 526.3Z" fill="url(#w111)"/><path d="M1492 366.5L1326.6 526.3L1332.2 531.9Z" fill="url(#w112)"/><path d="M1492 366.5L1332.2 531.9L1338.1 537.4Z" fill="url(#w113)"/><path d="M1492 366.5L1338.1 537.4L1344.2 542.7Z" fill="url(#w114)"/><path d="M1492 366.5L1344.2 542.7L1350.4 547.7Z" fill="url(#w115)"/><path d="M1492 366.5L1350.4 547.7L1356.8 552.6Z" fill="url(#w116)"/><path d="M1492 366.5L1356.8 552.6L1363.4 557.2Z" fill="url(#w117)"/><path d="M1492 366.5L1363.4 557.2L1370.1 561.6Z" fill="url(#w118)"/><path d="M1492 366.5L1370.1 561.6L1377 565.7Z" fill="url(#w119)"/><path d="M1492 366.5L1377 565.7L1384 569.6Z" fill="url(#w120)"/><path d="M1492 366.5L1384 569.6L1391.2 573.2Z" fill="url(#w121)"/><path d="M1492 366.5L1391.2 573.2L1398.5 576.6Z" fill="url(#w122)"/><path d="M1492 366.5L1398.5 576.6L1405.8 579.8Z" fill="url(#w123)"/><path d="M1492 366.5L1405.8 579.8L1413.3 582.6Z" fill="url(#w124)"/><path d="M1492 366.5L1413.3 582.6L1420.9 585.2Z" fill="url(#w125)"/><path d="M1492 366.5L1420.9 585.2L1428.6 587.6Z" fill="url(#w126)"/><path d="M1492 366.5L1428.6 587.6L1436.4 589.7Z" fill="url(#w127)"/><path d="M1492 366.5L1436.4 589.7L1444.2 591.5Z" fill="url(#w128)"/><path d="M1492 366.5L1444.2 591.5L1452.1 593Z" fill="url(#w129)"/><path d="M1492 366.5L1452.1 593L1460 594.3Z" fill="url(#w130)"/><path d="M1492 366.5L1460 594.3L1468 595.2Z" fill="url(#w131)"/><path d="M1492 366.5L1468 595.2L1476 595.9Z" fill="url(#w132)"/><path d="M1492 366.5L1476 595.9L1484 596.4Z" fill="url(#w133)"/><path d="M1492 366.5L1484 596.4L1492 596.5Z" fill="url(#w134)"/><path d="M1492 366.5L1492 596.5L1500 596.4Z" fill="url(#w135)"/><path d="M1492 366.5L1500 596.4L1508 595.9Z" fill="url(#w136)"/><path d="M1492 366.5L1508 595.9L1516 595.2Z" fill="url(#w137)"/><path d="M1492 366.5L1516 595.2L1524 594.3Z" fill="url(#w138)"/><path d="M1492 366.5L1524 594.3L1531.9 593Z" fill="url(#w139)"/><path d="M1492 366.5L1531.9 593L1539.8 591.5Z" fill="url(#w140)"/><path d="M1492 366.5L1539.8 591.5L1547.6 589.7Z" fill="url(#w141)"/><path d="M1492 366.5L1547.6 589.7L1555.4 587.6Z" fill="url(#w142)"/><path d="M1492 366.5L1555.4 587.6L1563.1 585.2Z" fill="url(#w143)"/><path d="M1492 366.5L1563.1 585.2L1570.7 582.6Z" fill="url(#w144)"/><path d="M1492 366.5L1570.7 582.6L1578.2 579.8Z" fill="url(#w145)"/><path d="M1492 366.5L1578.2 579.8L1585.5 576.6Z" fill="url(#w146)"/><path d="M1492 366.5L1585.5 576.6L1592.8 573.2Z" fill="url(#w147)"/><path d="M1492 366.5L1592.8 573.2L1600 569.6Z" fill="url(#w148)"/><path d="M1492 366.5L1600 569.6L1607 565.7Z" fill="url(#w149)"/><path d="M1492 366.5L1607 565.7L1613.9 561.6Z" fill="url(#w150)"/><path d="M1492 366.5L1613.9 561.6L1620.6 557.2Z" fill="url(#w151)"/><path d="M1492 366.5L1620.6 557.2L1627.2 552.6Z" fill="url(#w152)"/><path d="M1492 366.5L1627.2 552.6L1633.6 547.7Z" fill="url(#w153)"/><path d="M1492 366.5L1633.6 547.7L1639.8 542.7Z" fill="url(#w154)"/><path d="M1492 366.5L1639.8 542.7L1645.9 537.4Z" fill="url(#w155)"/><path d="M1492 366.5L1645.9 537.4L1651.8 531.9Z" fill="url(#w156)"/><path d="M1492 366.5L1651.8 531.9L1657.4 526.3Z" fill="url(#w157)"/><path d="M1492 366.5L1657.4 526.3L1662.9 520.4Z" fill="url(#w158)"/><path d="M1492 366.5L1662.9 520.4L1668.2 514.3Z" fill="url(#w159)"/><path d="M1492 366.5L1668.2 514.3L1673.2 508.1Z" fill="url(#w160)"/><path d="M1492 366.5L1673.2 508.1L1678.1 501.7Z" fill="url(#w161)"/><path d="M1492 366.5L1678.1 501.7L1682.7 495.1Z" fill="url(#w162)"/><path d="M1492 366.5L1682.7 495.1L1687.1 488.4Z" fill="url(#w163)"/><path d="M1492 366.5L1687.1 488.4L1691.2 481.5Z" fill="url(#w164)"/><path d="M1492 366.5L1691.2 481.5L1695.1 474.5Z" fill="url(#w165)"/><path d="M1492 366.5L1695.1 474.5L1698.7 467.3Z" fill="url(#w166)"/><path d="M1492 366.5L1698.7 467.3L1702.1 460Z" fill="url(#w167)"/><path d="M1492 366.5L1702.1 460L1705.3 452.7Z" fill="url(#w168)"/><path d="M1492 366.5L1705.3 452.7L1708.1 445.2Z" fill="url(#w169)"/><path d="M1492 366.5L1708.1 445.2L1710.7 437.6Z" fill="url(#w170)"/><path d="M1492 366.5L1710.7 437.6L1713.1 429.9Z" fill="url(#w171)"/><path d="M1492 366.5L1713.1 429.9L1715.2 422.1Z" fill="url(#w172)"/><path d="M1492 366.5L1715.2 422.1L1717 414.3Z" fill="url(#w173)"/><path d="M1492 366.5L1717 414.3L1718.5 406.4Z" fill="url(#w174)"/><path d="M1492 366.5L1718.5 406.4L1719.8 398.5Z" fill="url(#w175)"/><path d="M1492 366.5L1719.8 398.5L1720.7 390.5Z" fill="url(#w176)"/><path d="M1492 366.5L1720.7 390.5L1721.4 382.5Z" fill="url(#w177)"/><path d="M1492 366.5L1721.4 382.5L1721.9 374.5Z" fill="url(#w178)"/><path d="M1492 366.5L1721.9 374.5L1722 366.5Z" fill="url(#w179)"/></g>
<defs><radialGradient id="gT" gradientUnits="userSpaceOnUse" cx="0" cy="0" r="1" gradientTransform="translate(1728 386) rotate(46.3) scale(80 44)"><stop offset="0" stop-color="#ee5a40" stop-opacity=".95"/><stop offset="0.5" stop-color="#ee5c44" stop-opacity=".7"/><stop offset="1" stop-color="#ee5e4a" stop-opacity="0"/></radialGradient></defs>
<g clip-path="url(#cpL)"><rect x="1620" y="280" width="140" height="190" fill="url(#gT)"/></g>
<text x="1108.8" y="34" font-size="40">(b)</text>
<path d="M1248.2 0V590H1996V0M1247.2 1H1997" stroke="#231815" stroke-width="2" fill="none"/>
<path d="M1779.8 1V255.3H1996" stroke="#231815" stroke-width="2" fill="none"/>
<path d="M1248.2 571.5h11.5M1248.2 508.7h11.5M1248.2 445.9h11.5M1248.2 383.1h11.5M1248.2 320.3h11.5M1248.2 257.4h11.5M1248.2 194.6h11.5M1248.2 131.8h11.5M1248.2 69h11.5M1304.2 590.2v-12M1364.1 590.2v-12M1424 590.2v-12M1483.9 590.2v-12M1543.8 590.2v-12M1603.7 590.2v-12M1663.6 590.2v-12M1723.5 590.2v-12M1783.4 590.2v-12" stroke="#231815" stroke-width="1.3" fill="none"/>
<text x="1230.4" y="109.5" font-size="29" text-anchor="end">0.8</text>
<text x="1230.4" y="228.3" font-size="29" text-anchor="end">0.6</text>
<text x="1230.4" y="348.4" font-size="29" text-anchor="end">0.4</text>
<text x="1230.4" y="467.4" font-size="29" text-anchor="end">0.2</text>
<text x="1230.4" y="587.5" font-size="29" text-anchor="end">0</text>
<text x="1298.9" y="626.6" font-size="29" text-anchor="middle">0</text>
<text x="1358.8" y="626.6" font-size="29" text-anchor="middle">0.1</text>
<text x="1418.7" y="626.6" font-size="29" text-anchor="middle">0.2</text>
<text x="1478.6" y="626.6" font-size="29" text-anchor="middle">0.3</text>
<text x="1538.5" y="626.6" font-size="29" text-anchor="middle">0.4</text>
<text x="1598.4" y="626.6" font-size="29" text-anchor="middle">0.5</text>
<text x="1658.3" y="626.6" font-size="29" text-anchor="middle">0.6</text>
<text x="1718.2" y="626.6" font-size="29" text-anchor="middle">0.7</text>
<text x="1778.1" y="626.6" font-size="29" text-anchor="middle">0.8</text>
<text x="1158" y="330.5" font-size="33" font-style="italic">y</text>
<text x="1529" y="661" font-size="33" font-style="italic">x</text>
<line x1="1408.5" y1="568.4" x2="1408.5" y2="577.9" stroke="#4a58a5" stroke-width="1.3"/>
<line x1="1408.4" y1="568.4" x2="1411.6" y2="577.3" stroke="#4a58a5" stroke-width="1.3"/>
<line x1="1408.3" y1="568.4" x2="1410.7" y2="577.6" stroke="#4a58a5" stroke-width="1.3"/>
<line x1="1408.2" y1="568.4" x2="1410.1" y2="577.7" stroke="#4a58a5" stroke-width="1.3"/>
<line x1="1408" y1="568.5" x2="1409.6" y2="577.8" stroke="#4a58a5" stroke-width="1.3"/>
<line x1="1407.8" y1="568.5" x2="1407.8" y2="578" stroke="#4a58a5" stroke-width="1.3"/>
<line x1="1407.6" y1="568.5" x2="1407.6" y2="578" stroke="#4a58a5" stroke-width="1.3"/>
<line x1="1407.3" y1="568.5" x2="1404.9" y2="577.7" stroke="#4a58a5" stroke-width="1.3"/>
<line x1="1406.9" y1="568.3" x2="1402.1" y2="576.5" stroke="#4a58a5" stroke-width="1.3"/>
<line x1="1406.2" y1="567.9" x2="1400.5" y2="575.4" stroke="#4a58a5" stroke-width="1.3"/>
<line x1="1405.4" y1="567.2" x2="1399.2" y2="574.4" stroke="#4a58a5" stroke-width="1.3"/>
<line x1="1404.2" y1="566.1" x2="1397.7" y2="573" stroke="#4a58a5" stroke-width="1.3"/>
<line x1="1402.7" y1="564.7" x2="1396.2" y2="571.6" stroke="#4a58a5" stroke-width="1.3"/>
<line x1="1400.7" y1="562.8" x2="1394.3" y2="569.8" stroke="#4a58a5" stroke-width="1.3"/>
<line x1="1398" y1="560.4" x2="1391.6" y2="567.4" stroke="#4a58a5" stroke-width="1.3"/>
<line x1="1394.6" y1="557.2" x2="1387.9" y2="564" stroke="#4a58a5" stroke-width="1.3"/>
<line x1="1390.5" y1="552.8" x2="1382.1" y2="560" stroke="#4a58a5" stroke-width="1.3"/>
<line x1="1385.4" y1="546.4" x2="1380" y2="550.1" stroke="#3f6fb8" stroke-width="1.3"/>
<line x1="1378.5" y1="535.2" x2="1372.8" y2="538.2" stroke="#3f6fb8" stroke-width="1.3"/>
<line x1="1369.9" y1="517" x2="1363.9" y2="519.5" stroke="#3f6fb8" stroke-width="1.3"/>
<line x1="1358.9" y1="488.2" x2="1348.5" y2="491.7" stroke="#3a8fd0" stroke-width="1.3"/>
<line x1="1345.4" y1="445.4" x2="1339.1" y2="447.1" stroke="#3a8fd0" stroke-width="1.3"/>
<line x1="1331.4" y1="386.2" x2="1320.6" y2="388.4" stroke="#5ac3dc" stroke-width="1.3"/>
<line x1="1318.3" y1="312.3" x2="1311.8" y2="313.2" stroke="#5ac3dc" stroke-width="1.3"/>
<line x1="1309.1" y1="233.3" x2="1298.1" y2="234.2" stroke="#62bc8b" stroke-width="1.3"/>
<line x1="1306.5" y1="160.2" x2="1300" y2="160.1" stroke="#62bc8b" stroke-width="1.3"/>
<line x1="1312.5" y1="100.3" x2="1301.8" y2="98" stroke="#6ebe46" stroke-width="1.3"/>
<line x1="1327.5" y1="61.5" x2="1322.1" y2="57.8" stroke="#6ebe46" stroke-width="1.3"/>
<line x1="1348.7" y1="47.8" x2="1346.6" y2="37" stroke="#6ebe46" stroke-width="1.3"/>
<line x1="1372.6" y1="52.6" x2="1374.8" y2="46.5" stroke="#6ebe46" stroke-width="1.3"/>
<line x1="1396.9" y1="65.3" x2="1400.2" y2="59.7" stroke="#6ebe46" stroke-width="1.3"/>
<line x1="1419.7" y1="80.6" x2="1423.6" y2="75.3" stroke="#6ebe46" stroke-width="1.3"/>
<line x1="1441.7" y1="97.7" x2="1448.7" y2="89.2" stroke="#6ebe46" stroke-width="1.3"/>
<line x1="1463.4" y1="116.6" x2="1467.8" y2="111.7" stroke="#6ebe46" stroke-width="1.3"/>
<line x1="1484.9" y1="136.7" x2="1489.4" y2="132" stroke="#92c13d" stroke-width="1.3"/>
<line x1="1506.2" y1="157.6" x2="1510.8" y2="153" stroke="#92c13d" stroke-width="1.3"/>
<line x1="1527.7" y1="179.3" x2="1535.5" y2="171.5" stroke="#92c13d" stroke-width="1.3"/>
<line x1="1549" y1="201.2" x2="1553.7" y2="196.6" stroke="#92c13d" stroke-width="1.3"/>
<line x1="1570.2" y1="223.1" x2="1574.9" y2="218.6" stroke="#d8d040" stroke-width="1.3"/>
<line x1="1591" y1="244.8" x2="1595.7" y2="240.3" stroke="#f5a632" stroke-width="1.3"/>
<line x1="1611.2" y1="265.9" x2="1619.1" y2="258.3" stroke="#f5a632" stroke-width="1.3"/>
<line x1="1630.5" y1="286.1" x2="1635.2" y2="281.6" stroke="#f5a632" stroke-width="1.3"/>
<line x1="1648.7" y1="305.1" x2="1653.4" y2="300.6" stroke="#f5a632" stroke-width="1.3"/>
<line x1="1665.3" y1="322.5" x2="1670" y2="318" stroke="#ea5a2d" stroke-width="1.3"/>
<line x1="1679.8" y1="337.5" x2="1687.7" y2="329.9" stroke="#ea5a2d" stroke-width="1.3"/>
<line x1="1692.5" y1="350.8" x2="1697.2" y2="346.3" stroke="#ea5a2d" stroke-width="1.3"/>
<line x1="1703" y1="361.7" x2="1707.7" y2="357.2" stroke="#ea5a2d" stroke-width="1.3"/>
<line x1="1711.6" y1="370.7" x2="1716.3" y2="366.2" stroke="#e42a2e" stroke-width="1.3"/>
<line x1="1718.4" y1="377.9" x2="1726.4" y2="370.2" stroke="#e42a2e" stroke-width="1.3"/>
<line x1="1723.9" y1="383.5" x2="1729.6" y2="378" stroke="#e42a2e" stroke-width="1.3"/>
<line x1="1728.2" y1="388.1" x2="1734" y2="382.6" stroke="#e42a2e" stroke-width="1.3"/>
<line x1="1731.9" y1="391.9" x2="1737.7" y2="386.4" stroke="#e42a2e" stroke-width="1.3"/>
<line x1="1734.9" y1="395.1" x2="1740.6" y2="389.5" stroke="#d2353a" stroke-width="1.3"/>
<line x1="1737.3" y1="397.5" x2="1743" y2="392" stroke="#d2353a" stroke-width="1.3"/>
<line x1="1739.1" y1="399.4" x2="1744.9" y2="393.9" stroke="#d2353a" stroke-width="1.3"/>
<line x1="1740.5" y1="400.8" x2="1746.2" y2="395.3" stroke="#d2353a" stroke-width="1.3"/>
<line x1="1741.5" y1="401.9" x2="1747.3" y2="396.4" stroke="#d2353a" stroke-width="1.3"/>
<line x1="1742.1" y1="402.6" x2="1747.9" y2="397.1" stroke="#d2353a" stroke-width="1.3"/>
<line x1="1742.7" y1="403.2" x2="1748.5" y2="397.6" stroke="#d2353a" stroke-width="1.3"/>
<line x1="1743.1" y1="403.6" x2="1748.9" y2="398.1" stroke="#d2353a" stroke-width="1.3"/>
<line x1="1743.5" y1="404" x2="1749.3" y2="398.5" stroke="#d2353a" stroke-width="1.3"/>
<line x1="1743.9" y1="404.4" x2="1749.7" y2="398.9" stroke="#d2353a" stroke-width="1.3"/>
<line x1="1744.1" y1="404.7" x2="1749.9" y2="399.2" stroke="#d2353a" stroke-width="1.3"/>
<line x1="1744.2" y1="404.8" x2="1750" y2="399.3" stroke="#d2353a" stroke-width="1.3"/>
<line x1="1744.3" y1="404.9" x2="1750.1" y2="399.3" stroke="#d2353a" stroke-width="1.3"/>
<text x="1322" y="34.4" font-size="28" fill="#6ebe46">520</text>
<text x="1445.1" y="87.4" font-size="28" fill="#76bd45">540</text>
<text x="1254.6" y="104.4" font-size="28" fill="#6dbd52">510</text>
<text x="1252" y="243.2" font-size="28" fill="#62bc8b">500</text>
<text x="1270.2" y="403.1" font-size="28" fill="#5ac3dc">490</text>
<text x="1299" y="507.7" font-size="28" fill="#3a83c6">480</text>
<text x="1317.2" y="560.2" font-size="28" fill="#46529f">460</text>
<text x="1413.6" y="585.2" font-size="28" fill="#5f4fa2">380</text>
<text x="1539.6" y="182.4" font-size="28" fill="#92c13d">560</text>
<text x="1616.6" y="255" font-size="28" fill="#f5a632">580</text>
<text x="1685" y="325" font-size="28" fill="#ea5a2d">600</text>
<text x="1725" y="364" font-size="28" fill="#e42a2e">620</text>
<text x="1752.6" y="415.4" font-size="28" fill="#b11f30">700</text>
<text x="1370" y="234.3" font-size="28">(0.24, 0.50)</text>
<text x="1434" y="323.2" font-size="28">(0.32, 0.47)</text>
<rect x="1443.1" y="252.7" width="10.6" height="10.6" fill="#fff" stroke="#1fa06d" stroke-width="1.8"/>
<circle cx="1496.8" cy="280.1" r="6.3" fill="#fff" stroke="#8fb030" stroke-width="1.8"/>
<rect x="1641.8" y="489.2" width="12.3" height="12.3" fill="#fff" stroke="#1fa06d" stroke-width="1.7"/>
<circle cx="1647.7" cy="542.6" r="6.9" fill="#fff" stroke="#8fb030" stroke-width="1.7"/>
<text x="1673.2" y="504.2" font-size="28">[PXZDBFDP]<tspan font-size="17" baseline-shift="-3">2</tspan>Cu<tspan font-size="17" baseline-shift="-3">4</tspan>I<tspan font-size="17" baseline-shift="-3">4</tspan></text>
<text x="1673.2" y="551.5" font-size="28">[PhPXZDBFDP]<tspan font-size="17" baseline-shift="-3">2</tspan>Cu<tspan font-size="17" baseline-shift="-3">4</tspan>I<tspan font-size="17" baseline-shift="-3">4</tspan></text>
<path d="M1779.8 196.9h11M1779.8 139.2h11M1779.8 81.5h11M1779.8 23.8h11M1833.8 255.3v-6.5M1888.1 255.3v-6.5" stroke="#231815" stroke-width="1.4" fill="none"/>
<path d="M1791 139.2H1996" stroke="#231815" stroke-width="1" fill="none" stroke-dasharray="5.2 3"/>
<text x="1766.4" y="37.4" font-size="29" text-anchor="end">1.0</text>
<text x="1766.4" y="147.6" font-size="29" text-anchor="end">0.5</text>
<text x="1766.4" y="259" font-size="29" text-anchor="end">0.0</text>
<text x="1784.6" y="285.6" font-size="29" text-anchor="middle">400</text>
<text x="1887.6" y="285.6" font-size="29" text-anchor="middle">600</text>
<text x="1929" y="284" font-size="29">(nm)</text>
<text x="1710.2" y="128.5" font-size="32.6" text-anchor="middle" transform="rotate(-90 1710.2 128.5)">EL int. (Norm.)</text>
<clipPath id="cpI"><rect x="1779.8" y="1" width="216.6" height="254.3"/></clipPath>
<g clip-path="url(#cpI)">
<path d="M1778.4 251.8C1779.8 251.8 1783.8 252.3 1786.5 251.8C1789.2 251.3 1792.4 250.1 1794.7 248.8C1796.9 247.6 1798.3 246.5 1800.1 244.2C1801.9 241.9 1803.9 240.2 1805.5 235C1807.2 229.8 1808.5 222.5 1809.9 213.1C1811.2 203.6 1812.3 190.7 1813.7 178.4C1815 166.1 1816.5 152.7 1817.8 139.2C1819.2 125.7 1820.4 111.1 1821.8 97.7C1823.2 84.2 1824.7 69.2 1826.1 58.4C1827.6 47.6 1829 38.8 1830.5 33C1831.9 27.3 1833.4 24.2 1834.8 23.8C1836.3 23.4 1837.7 26.9 1839.2 30.7C1840.6 34.6 1841.9 40 1843.5 46.9C1845.1 53.8 1847.1 64.2 1848.9 72.3C1850.7 80.3 1852.5 88 1854.3 95.3C1856.2 102.7 1858.3 108.8 1859.8 116.1C1861.2 123.4 1861.7 131.9 1863 139.2C1864.4 146.5 1866.2 153 1867.9 160C1869.6 166.9 1871.3 174.2 1873.3 180.7C1875.3 187.3 1877.6 193.7 1879.8 199.2C1882.1 204.7 1884.4 208.7 1886.9 213.5C1889.4 218.3 1892.1 224.1 1895 228.1C1897.9 232 1901.1 234.8 1904.3 237.3C1907.4 239.8 1910.1 241.3 1914 243.1C1917.9 244.8 1923.1 246.5 1927.6 247.7C1932.1 248.8 1934.4 249.2 1941.1 250C1947.9 250.8 1959.2 251.7 1968.3 252.3C1977.3 252.9 1990.9 253.4 1995.4 253.7" stroke="#1fa06d" stroke-width="1.6" fill="none"/>
<path d="M1778.4 247.7C1779.5 247.3 1782.9 245.9 1784.9 245.4C1786.9 244.8 1788.5 245.4 1790.3 244.2C1792.1 243.1 1794 241.1 1795.8 238.4C1797.6 235.8 1799.6 231.7 1801.2 228.1C1802.8 224.4 1804.1 223.2 1805.5 216.5C1807 209.8 1808.3 200.6 1809.9 187.7C1811.4 174.8 1813.1 155.4 1814.7 139.2C1816.4 123 1818 105 1819.6 90.7C1821.3 76.5 1822.8 63.6 1824.5 53.8C1826.2 44 1828 36.9 1829.9 31.9C1831.8 26.9 1834 24.6 1835.9 23.8C1837.8 23 1839.4 24.8 1841.3 27.3C1843.2 29.8 1845.3 34.6 1847.3 38.8C1849.3 43 1851.2 47.8 1853.3 52.6C1855.3 57.5 1857.3 62.2 1859.8 68.1C1862.2 74.1 1865.2 81.4 1867.9 88.4C1870.6 95.5 1872.9 102.1 1876 110.3C1879.2 118.6 1883.6 129.8 1886.9 138C1890.2 146.3 1893 153.2 1896.1 160C1899.2 166.7 1902.4 172.9 1905.3 178.4C1908.3 183.9 1911 188 1914 193C1917.1 198 1920.6 204.3 1923.8 208.4C1927 212.6 1930.1 215.1 1933 217.7C1935.9 220.2 1937.5 221 1941.1 223.7C1944.8 226.4 1950.2 231.1 1954.7 233.8C1959.2 236.6 1963.8 238.4 1968.3 240.3C1972.8 242.2 1977.3 243.8 1981.8 245.4C1986.4 247 1993.1 249.2 1995.4 250" stroke="#93b23d" stroke-width="1.6" fill="none"/>
<rect x="1771.4" y="244.8" width="14" height="14" fill="#1fa06d"/>
<rect x="1798.5" y="229.1" width="14" height="14" fill="#1fa06d"/>
<rect x="1825.6" y="24.4" width="14" height="14" fill="#1fa06d"/>
<rect x="1852.8" y="107.5" width="14" height="14" fill="#1fa06d"/>
<rect x="1879.9" y="206.3" width="14" height="14" fill="#1fa06d"/>
<rect x="1907" y="235.6" width="14" height="14" fill="#1fa06d"/>
<rect x="1934.1" y="243" width="14" height="14" fill="#1fa06d"/>
<rect x="1961.3" y="245.3" width="14" height="14" fill="#1fa06d"/>
<rect x="1988.4" y="246.7" width="14" height="14" fill="#1fa06d"/>
<circle cx="1778.4" cy="247.7" r="7.3" fill="#93b23d"/>
<circle cx="1805.5" cy="217.2" r="7.3" fill="#93b23d"/>
<circle cx="1832.6" cy="31" r="7.3" fill="#93b23d"/>
<circle cx="1859.8" cy="68.1" r="7.3" fill="#93b23d"/>
<circle cx="1886.9" cy="137.8" r="7.3" fill="#93b23d"/>
<circle cx="1914" cy="193.2" r="7.3" fill="#93b23d"/>
<circle cx="1941.1" cy="223.7" r="7.3" fill="#93b23d"/>
<circle cx="1968.3" cy="240.3" r="7.3" fill="#93b23d"/>
<circle cx="1995.4" cy="250" r="7.3" fill="#93b23d"/>
</g>
<path d="M1819 139.3V171.8M1864.3 139.3V171.8M1819.6 167.1H1863.7M1824.6 163.9L1819.6 167.1L1824.6 170.3M1858.7 163.9L1863.7 167.1L1858.7 170.3M1888 139.3V186.9M1816.6 182.7H1961.8M1821.6 179.5L1816.6 182.7L1821.6 185.9M1882.6 179.5L1887.6 182.7L1882.6 185.9" stroke="#4a3c3a" stroke-width="1" fill="none"/>
<text x="1842.8" y="162.6" font-size="29" text-anchor="middle">93</text>
<text x="1925.2" y="178.8" font-size="29" text-anchor="middle">141</text>
</g>
<g>
<text x="-1.2" y="732" font-size="40">(c)</text>
<path d="M143.6 1215.6h5M143.6 1190.1h5M143.6 1172h5M143.6 1157.9h5M143.6 1146.4h5M143.6 1136.7h5M143.6 1128.3h5M143.6 1120.9h5M143.6 1114.3h9M143.6 1070.7h5M143.6 1045.2h5M143.6 1027.1h5M143.6 1013h5M143.6 1001.5h5M143.6 991.8h5M143.6 983.4h5M143.6 976h5M143.6 969.4h9M143.6 925.8h5M143.6 900.3h5M143.6 882.2h5M143.6 868.1h5M143.6 856.6h5M143.6 846.9h5M143.6 838.5h5M143.6 831.1h5M143.6 824.5h9M143.6 780.9h5M178.8 1258.8v-10M306.7 1258.8v-10M434.6 1258.8v-10M242.8 1258.8v-5.5M370.6 1258.8v-5.5M486 780.6h-10M486 900.1h-6M486 1019.7h-10M486 1139.2h-6" stroke="#231815" stroke-width="1.6" fill="none"/>
<clipPath id="cpC"><rect x="143.6" y="699.2" width="342.4" height="559.6"/></clipPath>
<g clip-path="url(#cpC)">
<path d="M152.8 1259.2L178.8 1258.7L204.3 1257.6L229.8 1256L255.3 1253.4L281.1 1249.4L306.6 1243.6L332.1 1235.7L357.9 1222.5L383.4 1200.7L408.9 1147.7" stroke="#1fa06d" stroke-width="1.8" fill="none"/>
<path d="M165.9 1258.6L191.4 1256.6L217.2 1252.8L242.7 1248L268.2 1241.3L293.7 1233.2L319.5 1219.7L345 1203.5L370.5 1185.3L421.8 1129.8L447.3 1087.4L473.1 1027.2" stroke="#93b23d" stroke-width="1.8" fill="none"/>
<rect x="147" y="1253.4" width="11.7" height="11.7" fill="#fff" stroke="#1fa06d" stroke-width="1.9"/>
<rect x="173" y="1252.9" width="11.7" height="11.7" fill="#fff" stroke="#1fa06d" stroke-width="1.9"/>
<rect x="198.5" y="1251.8" width="11.7" height="11.7" fill="#fff" stroke="#1fa06d" stroke-width="1.9"/>
<rect x="224" y="1250.2" width="11.7" height="11.7" fill="#fff" stroke="#1fa06d" stroke-width="1.9"/>
<rect x="249.5" y="1247.6" width="11.7" height="11.7" fill="#fff" stroke="#1fa06d" stroke-width="1.9"/>
<rect x="275.2" y="1243.6" width="11.7" height="11.7" fill="#fff" stroke="#1fa06d" stroke-width="1.9"/>
<rect x="300.8" y="1237.8" width="11.7" height="11.7" fill="#fff" stroke="#1fa06d" stroke-width="1.9"/>
<rect x="326.2" y="1229.9" width="11.7" height="11.7" fill="#fff" stroke="#1fa06d" stroke-width="1.9"/>
<rect x="352" y="1216.7" width="11.7" height="11.7" fill="#fff" stroke="#1fa06d" stroke-width="1.9"/>
<rect x="377.5" y="1194.9" width="11.7" height="11.7" fill="#fff" stroke="#1fa06d" stroke-width="1.9"/>
<rect x="403" y="1141.9" width="11.7" height="11.7" fill="#fff" stroke="#1fa06d" stroke-width="1.9"/>
<circle cx="165.9" cy="1258.6" r="6.5" fill="#fff" stroke="#93b23d" stroke-width="1.9"/>
<circle cx="191.4" cy="1256.6" r="6.5" fill="#fff" stroke="#93b23d" stroke-width="1.9"/>
<circle cx="217.2" cy="1252.8" r="6.5" fill="#fff" stroke="#93b23d" stroke-width="1.9"/>
<circle cx="242.7" cy="1248" r="6.5" fill="#fff" stroke="#93b23d" stroke-width="1.9"/>
<circle cx="268.2" cy="1241.3" r="6.5" fill="#fff" stroke="#93b23d" stroke-width="1.9"/>
<circle cx="293.7" cy="1233.2" r="6.5" fill="#fff" stroke="#93b23d" stroke-width="1.9"/>
<circle cx="319.5" cy="1219.7" r="6.5" fill="#fff" stroke="#93b23d" stroke-width="1.9"/>
<circle cx="345" cy="1203.5" r="6.5" fill="#fff" stroke="#93b23d" stroke-width="1.9"/>
<circle cx="370.5" cy="1185.3" r="6.5" fill="#fff" stroke="#93b23d" stroke-width="1.9"/>
<circle cx="421.8" cy="1129.8" r="6.5" fill="#fff" stroke="#93b23d" stroke-width="1.9"/>
<circle cx="447.3" cy="1087.4" r="6.5" fill="#fff" stroke="#93b23d" stroke-width="1.9"/>
<circle cx="473.1" cy="1027.2" r="6.5" fill="#fff" stroke="#93b23d" stroke-width="1.9"/>
<path d="M153.5 1160L178.8 1004.8L204.3 933.9L230.1 876.1L255.3 846.4L280.8 829.6L306.3 815.3L332.1 805.8L357.9 799.9L383.4 796.5L408.9 794" stroke="#1fa06d" stroke-width="1.8" fill="none"/>
<path d="M165.9 1155.2L191.5 1052.5L217.3 1017.5L243 997.6L268.5 978.7L294 967.5L319.5 958.2L345 952.1L370.5 947L396 943.6L421.5 942L447 939.5L473.1 938.3" stroke="#93b23d" stroke-width="1.8" fill="none"/>
<rect x="146.7" y="1153.2" width="13.6" height="13.6" fill="#1fa06d"/>
<rect x="172" y="998" width="13.6" height="13.6" fill="#1fa06d"/>
<rect x="197.5" y="927.1" width="13.6" height="13.6" fill="#1fa06d"/>
<rect x="223.3" y="869.3" width="13.6" height="13.6" fill="#1fa06d"/>
<rect x="248.5" y="839.6" width="13.6" height="13.6" fill="#1fa06d"/>
<rect x="274" y="822.8" width="13.6" height="13.6" fill="#1fa06d"/>
<rect x="299.5" y="808.5" width="13.6" height="13.6" fill="#1fa06d"/>
<rect x="325.3" y="799" width="13.6" height="13.6" fill="#1fa06d"/>
<rect x="351.1" y="793.1" width="13.6" height="13.6" fill="#1fa06d"/>
<rect x="376.6" y="789.7" width="13.6" height="13.6" fill="#1fa06d"/>
<rect x="402.1" y="787.2" width="13.6" height="13.6" fill="#1fa06d"/>
<circle cx="165.9" cy="1155.2" r="7.2" fill="#93b23d"/>
<circle cx="191.5" cy="1052.5" r="7.2" fill="#93b23d"/>
<circle cx="217.3" cy="1017.5" r="7.2" fill="#93b23d"/>
<circle cx="243" cy="997.6" r="7.2" fill="#93b23d"/>
<circle cx="268.5" cy="978.7" r="7.2" fill="#93b23d"/>
<circle cx="294" cy="967.5" r="7.2" fill="#93b23d"/>
<circle cx="319.5" cy="958.2" r="7.2" fill="#93b23d"/>
<circle cx="345" cy="952.1" r="7.2" fill="#93b23d"/>
<circle cx="370.5" cy="947" r="7.2" fill="#93b23d"/>
<circle cx="396" cy="943.6" r="7.2" fill="#93b23d"/>
<circle cx="421.5" cy="942" r="7.2" fill="#93b23d"/>
<circle cx="447" cy="939.5" r="7.2" fill="#93b23d"/>
<circle cx="473.1" cy="938.3" r="7.2" fill="#93b23d"/>
</g>
<rect x="143.6" y="699.2" width="342.4" height="559.6" fill="none" stroke="#231815" stroke-width="2"/>
<path d="M408.9 936.6V795M402.6 807.5L408.9 794.6L415.2 807.5" stroke="#231815" stroke-width="1.7" fill="none"/>
<text x="441.6" y="867.3" font-size="29" text-anchor="middle" transform="rotate(-90 441.6 867.3)">~10 folds</text>
<text x="176.6" y="733.4" font-size="29.1">20% [ArDBFDP]<tspan font-size="18" baseline-shift="-3">2</tspan>Cu<tspan font-size="18" baseline-shift="-3">4</tspan>I<tspan font-size="18" baseline-shift="-3">4</tspan></text>
<text x="158.6" y="771.4" font-size="29">Ar =</text>
<line x1="218" y1="762.3" x2="255" y2="762.3" stroke="#1fa06d" stroke-width="1.6"/>
<rect x="229.7" y="755.6" width="13.4" height="13.4" fill="#1fa06d"/>
<text x="265.2" y="771.4" font-size="29">PXZ</text>
<line x1="332.2" y1="761.4" x2="370" y2="761.4" stroke="#93b23d" stroke-width="1.6"/>
<circle cx="351" cy="761.4" r="7.2" fill="#93b23d"/>
<text x="380" y="771.4" font-size="29">PhPXZ</text>
<text x="132.2" y="837.1" font-size="29" text-anchor="end">10<tspan font-size="17" baseline-shift="10.5">3</tspan></text>
<text x="132.2" y="982" font-size="29" text-anchor="end">10<tspan font-size="17" baseline-shift="10.5">2</tspan></text>
<text x="132.2" y="1126.9" font-size="29" text-anchor="end">10<tspan font-size="17" baseline-shift="10.5">1</tspan></text>
<text x="132.2" y="1264.9" font-size="29" text-anchor="end">10<tspan font-size="17" baseline-shift="10.5">0</tspan></text>
<text x="178.3" y="1288.8" font-size="29" text-anchor="middle">5</text>
<text x="305.6" y="1288.8" font-size="29" text-anchor="middle">10</text>
<text x="434.6" y="1288.8" font-size="29" text-anchor="middle">15</text>
<text x="497.2" y="789.8" font-size="29">100</text>
<text x="497.2" y="1028.9" font-size="29">50</text>
<text x="497.2" y="1264.9" font-size="29">0</text>
<text x="331.4" y="1326.6" font-size="33.3" text-anchor="middle">Voltage (V)</text>
<text x="76.6" y="989.6" font-size="33.3" text-anchor="middle" transform="rotate(-90 76.6 989.6)">Luminance (cd m<tspan font-size="19" baseline-shift="11">-2</tspan>)</text>
<text x="575.2" y="995.2" font-size="33.3" text-anchor="middle" transform="rotate(-90 575.2 995.2)"><tspan font-style="italic">J</tspan> (mA cm<tspan font-size="19" baseline-shift="11">-2</tspan>)</text>
</g>
<g>
<text x="593.8" y="732" font-size="40">(d)</text>
<path d="M943.3 1075.4V1259M1021.6 1075.4V1259" stroke="#231815" stroke-width="1" fill="none" stroke-dasharray="4.6 2.6"/>
<clipPath id="cpD0"><rect x="746.3" y="699.4" width="343" height="191"/></clipPath>
<g clip-path="url(#cpD0)">
<path d="M799.4 880.2L878.7 882.7L905.5 884.5L921.6 885.3L935.2 885.8L944 886.3L950 886.7L955 887L959 887.3L962.5 887.5L965.5 887.7L968 887.9" stroke="#93b23d" stroke-width="1.8" fill="none"/>
<circle cx="799.4" cy="880.2" r="7.8" fill="#93b23d"/>
<circle cx="878.7" cy="882.7" r="7.8" fill="#93b23d"/>
<circle cx="905.5" cy="884.5" r="7.8" fill="#93b23d"/>
<circle cx="921.6" cy="885.3" r="7.8" fill="#93b23d"/>
<circle cx="935.2" cy="885.8" r="7.8" fill="#93b23d"/>
<circle cx="944" cy="886.3" r="7.8" fill="#93b23d"/>
<circle cx="950" cy="886.7" r="7.8" fill="#93b23d"/>
<circle cx="955" cy="887" r="7.8" fill="#93b23d"/>
<circle cx="959" cy="887.3" r="7.8" fill="#93b23d"/>
<circle cx="962.5" cy="887.5" r="7.8" fill="#93b23d"/>
<circle cx="965.5" cy="887.7" r="7.8" fill="#93b23d"/>
<circle cx="968" cy="887.9" r="7.8" fill="#93b23d"/>
<path d="M795.8 742.1L915.5 747.9L970.6 760.7L1015.3 780.1L1038.3 799L1051.3 816.9L1062.5 833.5L1069.4 848.8L1074 860.5L1076.8 870L1079.1 878.9" stroke="#1fa06d" stroke-width="1.8" fill="none"/>
<rect x="788.5" y="734.8" width="14.6" height="14.6" fill="#1fa06d"/>
<rect x="908.2" y="740.6" width="14.6" height="14.6" fill="#1fa06d"/>
<rect x="963.3" y="753.4" width="14.6" height="14.6" fill="#1fa06d"/>
<rect x="1008" y="772.8" width="14.6" height="14.6" fill="#1fa06d"/>
<rect x="1031" y="791.7" width="14.6" height="14.6" fill="#1fa06d"/>
<rect x="1044" y="809.6" width="14.6" height="14.6" fill="#1fa06d"/>
<rect x="1055.2" y="826.2" width="14.6" height="14.6" fill="#1fa06d"/>
<rect x="1062.1" y="841.5" width="14.6" height="14.6" fill="#1fa06d"/>
<rect x="1066.7" y="853.2" width="14.6" height="14.6" fill="#1fa06d"/>
<rect x="1069.5" y="862.7" width="14.6" height="14.6" fill="#1fa06d"/>
<rect x="1071.8" y="871.6" width="14.6" height="14.6" fill="#1fa06d"/>
</g>
<clipPath id="cpD1"><rect x="746.3" y="890.4" width="343" height="185"/></clipPath>
<g clip-path="url(#cpD1)">
<path d="M799.4 1066.9L878.7 1069.4L905.5 1071.5L921.6 1072.2L935.2 1072.7L944 1073L950 1073.2L955 1073.4L959 1073.5L962.5 1073.6L965.5 1073.7L968 1073.8" stroke="#93b23d" stroke-width="1.8" fill="none"/>
<circle cx="799.4" cy="1066.9" r="7.8" fill="#93b23d"/>
<circle cx="878.7" cy="1069.4" r="7.8" fill="#93b23d"/>
<circle cx="905.5" cy="1071.5" r="7.8" fill="#93b23d"/>
<circle cx="921.6" cy="1072.2" r="7.8" fill="#93b23d"/>
<circle cx="935.2" cy="1072.7" r="7.8" fill="#93b23d"/>
<circle cx="944" cy="1073" r="7.8" fill="#93b23d"/>
<circle cx="950" cy="1073.2" r="7.8" fill="#93b23d"/>
<circle cx="955" cy="1073.4" r="7.8" fill="#93b23d"/>
<circle cx="959" cy="1073.5" r="7.8" fill="#93b23d"/>
<circle cx="962.5" cy="1073.6" r="7.8" fill="#93b23d"/>
<circle cx="965.5" cy="1073.7" r="7.8" fill="#93b23d"/>
<circle cx="968" cy="1073.8" r="7.8" fill="#93b23d"/>
<path d="M795.8 929.2L915.5 963.1L970.6 989.9L1015.3 1014L1038.3 1031.1L1051.3 1043.4L1062.5 1053.1L1069.4 1060L1074 1065.1L1076.8 1068.4L1079.1 1071.5" stroke="#1fa06d" stroke-width="1.8" fill="none"/>
<rect x="788.5" y="921.9" width="14.6" height="14.6" fill="#1fa06d"/>
<rect x="908.2" y="955.8" width="14.6" height="14.6" fill="#1fa06d"/>
<rect x="963.3" y="982.6" width="14.6" height="14.6" fill="#1fa06d"/>
<rect x="1008" y="1006.7" width="14.6" height="14.6" fill="#1fa06d"/>
<rect x="1031" y="1023.8" width="14.6" height="14.6" fill="#1fa06d"/>
<rect x="1044" y="1036.1" width="14.6" height="14.6" fill="#1fa06d"/>
<rect x="1055.2" y="1045.8" width="14.6" height="14.6" fill="#1fa06d"/>
<rect x="1062.1" y="1052.7" width="14.6" height="14.6" fill="#1fa06d"/>
<rect x="1066.7" y="1057.8" width="14.6" height="14.6" fill="#1fa06d"/>
<rect x="1069.5" y="1061.1" width="14.6" height="14.6" fill="#1fa06d"/>
<rect x="1071.8" y="1064.2" width="14.6" height="14.6" fill="#1fa06d"/>
</g>
<clipPath id="cpD2"><rect x="746.3" y="1075.4" width="343" height="183.6"/></clipPath>
<g clip-path="url(#cpD2)">
<path d="M799.4 1245.6L878.7 1248.4L905.5 1250.7L921.6 1251.9L935.2 1252.5L944 1253L950 1253.4L955 1253.8L959 1254.1L962.5 1254.4L965.5 1254.6L968 1254.8" stroke="#93b23d" stroke-width="1.8" fill="none"/>
<circle cx="799.4" cy="1245.6" r="7.8" fill="#93b23d"/>
<circle cx="878.7" cy="1248.4" r="7.8" fill="#93b23d"/>
<circle cx="905.5" cy="1250.7" r="7.8" fill="#93b23d"/>
<circle cx="921.6" cy="1251.9" r="7.8" fill="#93b23d"/>
<circle cx="935.2" cy="1252.5" r="7.8" fill="#93b23d"/>
<circle cx="944" cy="1253" r="7.8" fill="#93b23d"/>
<circle cx="950" cy="1253.4" r="7.8" fill="#93b23d"/>
<circle cx="955" cy="1253.8" r="7.8" fill="#93b23d"/>
<circle cx="959" cy="1254.1" r="7.8" fill="#93b23d"/>
<circle cx="962.5" cy="1254.4" r="7.8" fill="#93b23d"/>
<circle cx="965.5" cy="1254.6" r="7.8" fill="#93b23d"/>
<circle cx="968" cy="1254.8" r="7.8" fill="#93b23d"/>
<path d="M795.8 1091.9L915.5 1098.8L970.6 1113.8L1015.3 1135.3L1038.3 1155.2L1051.3 1176.1L1062.5 1195.5L1069.4 1211.9L1074 1225.1L1076.8 1236.1L1079.1 1246.3" stroke="#1fa06d" stroke-width="1.8" fill="none"/>
<rect x="788.5" y="1084.6" width="14.6" height="14.6" fill="#1fa06d"/>
<rect x="908.2" y="1091.5" width="14.6" height="14.6" fill="#1fa06d"/>
<rect x="963.3" y="1106.5" width="14.6" height="14.6" fill="#1fa06d"/>
<rect x="1008" y="1128" width="14.6" height="14.6" fill="#1fa06d"/>
<rect x="1031" y="1147.9" width="14.6" height="14.6" fill="#1fa06d"/>
<rect x="1044" y="1168.8" width="14.6" height="14.6" fill="#1fa06d"/>
<rect x="1055.2" y="1188.2" width="14.6" height="14.6" fill="#1fa06d"/>
<rect x="1062.1" y="1204.6" width="14.6" height="14.6" fill="#1fa06d"/>
<rect x="1066.7" y="1217.8" width="14.6" height="14.6" fill="#1fa06d"/>
<rect x="1069.5" y="1228.8" width="14.6" height="14.6" fill="#1fa06d"/>
<rect x="1071.8" y="1239" width="14.6" height="14.6" fill="#1fa06d"/>
</g>
<path d="M797.2 890.4v-5.6M806.1 890.4v-5.6M813.6 890.4v-5.6M820.1 890.4v-5.6M825.9 890.4v-5.6M831 890.4v-11.7M864.8 890.4v-5.6M884.5 890.4v-5.6M898.5 890.4v-5.6M909.4 890.4v-5.6M918.3 890.4v-5.6M925.8 890.4v-5.6M932.3 890.4v-5.6M938 890.4v-5.6M943.1 890.4v-11.7M976.9 890.4v-5.6M996.7 890.4v-5.6M1010.7 890.4v-5.6M1021.5 890.4v-5.6M1030.4 890.4v-5.6M1037.9 890.4v-5.6M1044.4 890.4v-5.6M1050.2 890.4v-5.6M1055.3 890.4v-11.7M797.2 1075.4v-5.6M806.1 1075.4v-5.6M813.6 1075.4v-5.6M820.1 1075.4v-5.6M825.9 1075.4v-5.6M831 1075.4v-11.7M864.8 1075.4v-5.6M884.5 1075.4v-5.6M898.5 1075.4v-5.6M909.4 1075.4v-5.6M918.3 1075.4v-5.6M925.8 1075.4v-5.6M932.3 1075.4v-5.6M938 1075.4v-5.6M943.1 1075.4v-11.7M976.9 1075.4v-5.6M996.7 1075.4v-5.6M1010.7 1075.4v-5.6M1021.5 1075.4v-5.6M1030.4 1075.4v-5.6M1037.9 1075.4v-5.6M1044.4 1075.4v-5.6M1050.2 1075.4v-5.6M1055.3 1075.4v-11.7M752.6 1259v-5.6M772.4 1259v-5.6M786.4 1259v-5.6M797.2 1259v-5.6M806.1 1259v-5.6M813.6 1259v-5.6M820.1 1259v-5.6M825.9 1259v-5.6M831 1259v-11.7M864.8 1259v-5.6M884.5 1259v-5.6M898.5 1259v-5.6M909.4 1259v-5.6M918.3 1259v-5.6M925.8 1259v-5.6M932.3 1259v-5.6M938 1259v-5.6M943.1 1259v-11.7M976.9 1259v-5.6M996.7 1259v-5.6M1010.7 1259v-5.6M1021.5 1259v-5.6M1030.4 1259v-5.6M1037.9 1259v-5.6M1044.4 1259v-5.6M1050.2 1259v-5.6M1055.3 1259v-11.7M746.3 735.4h13M746.3 774.1h7M746.3 812.9h13M746.3 851.6h7M746.3 919.8h13M746.3 958.7h7M746.3 997.6h13M746.3 1036.5h7M746.3 1235.5h7M746.3 1212h13M746.3 1188.5h7M746.3 1165h13M746.3 1141.5h7M746.3 1118h13M746.3 1094.5h7" stroke="#231815" stroke-width="1.6" fill="none"/>
<rect x="746.3" y="699.4" width="343" height="559.6" fill="none" stroke="#231815" stroke-width="2"/>
<path d="M746.3 890.4H1089.3M746.3 1075.4H1089.3" stroke="#231815" stroke-width="2" fill="none"/>
<text x="764.4" y="732.2" font-size="29">Ar =</text>
<line x1="823.4" y1="722.4" x2="859.2" y2="722.4" stroke="#1fa06d" stroke-width="1.6"/>
<rect x="834.6" y="715.7" width="13.4" height="13.4" fill="#1fa06d"/>
<text x="870.8" y="732.2" font-size="29">PXZ</text>
<line x1="938.2" y1="721.4" x2="974" y2="721.4" stroke="#93b23d" stroke-width="1.6"/>
<circle cx="955.8" cy="721.4" r="7.2" fill="#93b23d"/>
<text x="984.6" y="732.2" font-size="29">PhPXZ</text>
<path d="M795.8 1243.8V1094M789.5 1106.5L795.8 1093.6L802.1 1106.5" stroke="#231815" stroke-width="1.7" fill="none"/>
<text x="783.6" y="1171.6" font-size="29" text-anchor="middle" transform="rotate(-90 783.6 1171.6)">~13 folds</text>
<line x1="825.9" y1="1112.3" x2="811.9" y2="1103.5" stroke="#231815" stroke-width="1.6"/>
<polygon points="802.6,1097.6 816,1100.6 811.5,1103.2 811.1,1108.4" fill="#231815"/>
<line x1="970.1" y1="1095.2" x2="955.3" y2="1101.1" stroke="#231815" stroke-width="1.6"/>
<polygon points="945.1,1105.2 955.5,1096.1 954.8,1101.3 958.9,1104.6" fill="#231815"/>
<line x1="990.5" y1="1158.3" x2="1011.3" y2="1146.9" stroke="#231815" stroke-width="1.6"/>
<polygon points="1020.9,1141.6 1011.7,1151.9 1011.7,1146.7 1007.3,1143.8" fill="#231815"/>
<text x="828" y="1131.5" font-size="29">35.5%</text>
<text x="972.8" y="1103.4" font-size="29">32.4%</text>
<text x="909.8" y="1176.1" font-size="29">25.0%</text>
<text x="732.3" y="744.3" font-size="29" text-anchor="end">100</text>
<text x="732.3" y="821.7" font-size="29" text-anchor="end">50</text>
<text x="732.3" y="896.4" font-size="29" text-anchor="end">0</text>
<text x="732.3" y="928.9" font-size="29" text-anchor="end">80</text>
<text x="732.3" y="1009.3" font-size="29" text-anchor="end">40</text>
<text x="732.3" y="1085.7" font-size="29" text-anchor="end">0</text>
<text x="732.3" y="1127" font-size="29" text-anchor="end">30</text>
<text x="732.3" y="1173.8" font-size="29" text-anchor="end">20</text>
<text x="732.3" y="1220.8" font-size="29" text-anchor="end">10</text>
<text x="732.3" y="1265.6" font-size="29" text-anchor="end">0</text>
<text x="806.2" y="1289.8" font-size="29">10<tspan font-size="17" baseline-shift="10.5">1</tspan></text>
<text x="918.8" y="1289.8" font-size="29">10<tspan font-size="17" baseline-shift="10.5">2</tspan></text>
<text x="1031.2" y="1289.8" font-size="29">10<tspan font-size="17" baseline-shift="10.5">3</tspan></text>
<text x="938" y="1326.8" font-size="33.3" text-anchor="middle">Luminance (cd m<tspan font-size="19" baseline-shift="11">-2</tspan>)</text>
<text x="671.6" y="806.8" font-size="33.3" text-anchor="middle" transform="rotate(-90 671.6 806.8)">CE (cd A<tspan font-size="19" baseline-shift="11">-1</tspan>)</text>
<text x="671.6" y="995.6" font-size="33.3" text-anchor="middle" transform="rotate(-90 671.6 995.6)">PE (lm W<tspan font-size="19" baseline-shift="11">-1</tspan>)</text>
<text x="671.6" y="1179.3" font-size="33.3" text-anchor="middle" transform="rotate(-90 671.6 1179.3)">EQE (%)</text>
</g>
<g>
<defs><linearGradient id="gE" x1="0" y1="0" x2="0" y2="1"><stop offset="0" stop-color="#eaf3e4"/><stop offset="0.5" stop-color="#f4f9f0"/><stop offset="1" stop-color="#fff"/></linearGradient></defs>
<rect x="1249.1" y="699" width="439.1" height="200" fill="url(#gE)"/>
<rect x="1688.2" y="699" width="307.8" height="45.4" fill="#e8f1e5"/>
<text x="1107.2" y="732" font-size="40">(e)</text>
<path d="M1249.1 1192.9h4M1249.1 1127.2h7.5M1249.1 1061.5h4M1249.1 995.8h7.5M1249.1 930.1h4M1249.1 864.4h7.5M1249.1 798.7h4M1249.1 733h7.5M1282.5 1258.9v-12M1316.3 1258.9v-6.4M1350.1 1258.9v-12M1384 1258.9v-6.4M1417.8 1258.9v-12M1451.6 1258.9v-6.4M1485.4 1258.9v-12M1519.2 1258.9v-6.4M1553.1 1258.9v-12M1586.9 1258.9v-6.4M1620.7 1258.9v-12M1654.5 1258.9v-6.4" stroke="#231815" stroke-width="2" fill="none"/>
<path d="M1249.1 864.4H1688.2" stroke="#4a4040" stroke-width="1" fill="none" stroke-dasharray="6.8 4.2"/>
<rect x="1249.1" y="699" width="746.9" height="559.9" fill="none" stroke="#231815" stroke-width="2"/>
<line x1="1688.2" y1="699" x2="1688.2" y2="1258.9" stroke="#231815" stroke-width="2"/>
<polygon points="1282.5,1208.7 1289.5,1221.3 1275.5,1221.3" fill="#1f4e9c"/>
<polygon points="1316.3,1159.6 1323.6,1166.9 1316.3,1174.2 1309,1166.9" fill="#1a9fb5"/>
<polygon points="1316.3,964.8 1323.3,952.2 1309.3,952.2" fill="#1a7ab5"/>
<polygon points="1356.8,1125.9 1345.6,1119.7 1345.6,1132.2" fill="#fff" stroke="#7a80c0" stroke-width="1.5"/>
<polygon points="1342.8,1075.6 1355.4,1068.6 1355.4,1082.6" fill="#8d8fbf"/>
<polygon points="1417.3,1014 1411.7,1017.2 1411.7,1023.8 1417.3,1027 1422.9,1023.8 1422.9,1017.2" fill="#7fbf4f"/>
<rect x="1445.8" y="1035" width="10.6" height="10.6" fill="#8e6f9f"/>
<circle cx="1451.1" cy="1067.9" r="5.5" fill="#fff" stroke="#d9736f" stroke-width="1.5"/>
<polygon points="1451.1,1103.4 1458.1,1116 1444.1,1116" fill="#3a9e80"/>
<polygon points="1451.1,1164.2 1458.1,1151.6 1444.1,1151.6" fill="#6fa890"/>
<polygon points="1560.6,1001.9 1548,994.9 1548,1008.9" fill="#1aa0d8"/>
<polygon points="1552.1,1091.8 1546.5,1095 1546.5,1101.5 1552.1,1104.8 1557.7,1101.5 1557.7,1095" fill="#e0b677"/>
<polygon points="1552.1,1220.8 1546.4,1225 1548.6,1231.6 1555.6,1231.6 1557.8,1225" fill="#fff" stroke="#e6197f" stroke-width="1.5"/>
<rect x="1581" y="866.5" width="10.6" height="10.6" fill="#e8212d"/>
<circle cx="1586.3" cy="922" r="6.3" fill="#7d1322"/>
<polygon points="1586.3,975.6 1593.3,988.2 1579.3,988.2" fill="#5a55a5"/>
<polygon points="1586.3,1062.6 1593.3,1050 1579.3,1050" fill="#0a7a40"/>
<polygon points="1586.3,1192 1593.6,1199.3 1586.3,1206.6 1579,1199.3" fill="#b87ab8"/>
<polygon points="1612.4,778 1625,771 1625,785" fill="#b3b5b7"/>
<polygon points="1619.9,864.9 1614.9,867.7 1614.9,873.5 1619.9,876.4 1624.9,873.5 1624.9,867.7" fill="#fff" stroke="#4a9e7a" stroke-width="1.5"/>
<polygon points="1627.3,950.2 1614.7,943.2 1614.7,957.2" fill="#5a1a6f"/>
<polygon points="1612.4,1007.5 1625,1000.5 1625,1014.5" fill="#8a1525"/>
<polygon points="1619.9,1153.2 1614.3,1156.5 1614.3,1163 1619.9,1166.2 1625.5,1163 1625.5,1156.5" fill="#4ab8d0"/>
<polygon points="1653.8,778.8 1650.2,789.1 1639.3,789.3 1648,795.9 1644.8,806.3 1653.8,800.1 1662.8,806.3 1659.6,795.9 1668.3,789.3 1657.4,789.1" fill="#e8212d"/>
<text x="1238.6" y="743.4" font-size="29" text-anchor="end">40</text>
<text x="1238.6" y="874.8" font-size="29" text-anchor="end">30</text>
<text x="1238.6" y="1006.2" font-size="29" text-anchor="end">20</text>
<text x="1238.6" y="1137.6" font-size="29" text-anchor="end">10</text>
<text x="1238.6" y="1269" font-size="29" text-anchor="end">0</text>
<text x="1281.2" y="1291.9" font-size="29" text-anchor="middle">2014</text>
<text x="1416.5" y="1291.9" font-size="29" text-anchor="middle">2018</text>
<text x="1551.8" y="1291.9" font-size="29" text-anchor="middle">2022</text>
<text x="1687" y="1291.9" font-size="29" text-anchor="middle">2026</text>
<text x="1465.6" y="1326.9" font-size="33.3" text-anchor="middle">Years</text>
<text x="1184.8" y="985.2" font-size="33.3" text-anchor="middle" transform="rotate(-90 1184.8 985.2)">EQE (%)</text>
<polygon points="1701.9,710.3 1699.2,717.9 1691.2,718.1 1697.6,723 1695.3,730.7 1701.9,726.1 1708.5,730.7 1706.2,723 1712.6,718.1 1704.6,717.9" fill="#e8212d"/>
<text x="1718.4" y="728.4" font-size="22.9">BCPO:[PXZDBFDP]<tspan font-size="61%" font-weight="bold">2</tspan>Cu<tspan font-size="61%" font-weight="bold">4</tspan>I<tspan font-size="61%" font-weight="bold">4</tspan></text>
<text x="1714.2" y="773.9" font-size="19.6">TCTA:Au<tspan font-size="61%" font-weight="bold">4</tspan>(P^P^P)<tspan font-size="61%" font-weight="bold">2</tspan>(C<tspan font-size="61%" font-weight="bold">8</tspan>H<tspan font-size="61%" font-weight="bold">44</tspan>NMe<tspan font-size="61%" font-weight="bold">2</tspan>)</text>
<polygon points="1700,760.4 1707,773 1693,773" fill="#1f4e9c"/>
<text x="1714.2" y="799.1" font-size="19.6">PYD2:NHetPHOS-Cu(I)</text>
<polygon points="1700,797.6 1707,785 1693,785" fill="#1a7ab5"/>
<text x="1714.2" y="819.5" font-size="19.6">mCP:OXD-7: Au<tspan font-size="61%" font-weight="bold">4</tspan>Ag<tspan font-size="61%" font-weight="bold">2</tspan></text>
<polygon points="1700,805.5 1707.3,812.8 1700,820.1 1692.7,812.8" fill="#1a9fb5"/>
<text x="1714.2" y="841.8" font-size="19.6">TCTA:OXD- 7:Ag<tspan font-size="61%" font-weight="bold">6</tspan>Cu</text>
<polygon points="1693.4,836.7 1706,829.7 1706,843.7" fill="#8d8fbf"/>
<text x="1714.2" y="863.8" font-size="19.6">mCP:Cu<tspan font-size="61%" font-weight="bold">2</tspan>I<tspan font-size="61%" font-weight="bold">2</tspan></text>
<polygon points="1706.7,857.8 1695.4,851.5 1695.4,864" fill="#fff" stroke="#7a80c0" stroke-width="1.5"/>
<polygon points="1837.8,852.6 1844.8,865.2 1830.8,865.2" fill="#5a55a5"/>
<text x="1732.2" y="887.1" font-size="19.6">mCP:OXD-7: PtAu<tspan font-size="61%" font-weight="bold">3</tspan></text>
<polygon points="1700,874.8 1694.4,878 1694.4,884.5 1700,887.8 1705.6,884.5 1705.6,878" fill="#7fbf4f"/>
<rect x="1713.4" y="876" width="10.6" height="10.6" fill="#8e6f9f"/>
<text x="1712.2" y="909.4" font-size="19.6">mCP: [Cu(μ<tspan font-size="61%" font-weight="bold">2</tspan>-I)dppt<tspan font-size="61%" font-weight="bold">2</tspan>]<tspan font-size="61%" font-weight="bold">2</tspan></text>
<circle cx="1700" cy="903.4" r="5.5" fill="#fff" stroke="#d9736f" stroke-width="1.5"/>
<text x="1712.2" y="934.6" font-size="19.6">TAPC:[Cu<tspan font-size="61%" font-weight="bold">4</tspan>(PCP)<tspan font-size="61%" font-weight="bold">3</tspan>][BF<tspan font-size="61%" font-weight="bold">4</tspan>]</text>
<polygon points="1700,920.4 1707,933 1693,933" fill="#3a9e80"/>
<text x="1712.2" y="957.3" font-size="19.6">CzSi:[DtBCzDBFDP]<tspan font-size="61%" font-weight="bold">2</tspan>Cu<tspan font-size="61%" font-weight="bold">4</tspan>I<tspan font-size="61%" font-weight="bold">4</tspan></text>
<polygon points="1700,958.3 1707,945.7 1693,945.7" fill="#6fa890"/>
<text x="1711" y="983" font-size="19.6">BCPO:[DPACDBFDP]<tspan font-size="61%" font-weight="bold">2</tspan>Cu<tspan font-size="61%" font-weight="bold">4</tspan>I<tspan font-size="61%" font-weight="bold">4</tspan></text>
<polygon points="1707.4,976 1694.8,969 1694.8,983" fill="#1aa0d8"/>
<text x="1710.6" y="1006.2" font-size="19.6">BCPO:[tBCzDBFDP]<tspan font-size="61%" font-weight="bold">2</tspan>Cu<tspan font-size="61%" font-weight="bold">4</tspan>I<tspan font-size="61%" font-weight="bold">4</tspan></text>
<polygon points="1700,993.9 1694.4,997.1 1694.4,1003.6 1700,1006.9 1705.6,1003.6 1705.6,997.1" fill="#e0b677"/>
<text x="1711.8" y="1031.2" font-size="19.6">TPBi:[O(Audppy)<tspan font-size="61%" font-weight="bold">3</tspan>]BF<tspan font-size="61%" font-weight="bold">4</tspan></text>
<polygon points="1700,1020.5 1694.3,1024.6 1696.5,1031.2 1703.5,1031.2 1705.7,1024.6" fill="#fff" stroke="#e6197f" stroke-width="1.5"/>
<text x="1710.6" y="1055.5" font-size="19.6">CzAcSF:[DDMACDBFDP]<tspan font-size="61%" font-weight="bold">2</tspan>Cu<tspan font-size="61%" font-weight="bold">4</tspan>I<tspan font-size="61%" font-weight="bold">4</tspan></text>
<rect x="1694.7" y="1045.1" width="10.6" height="10.6" fill="#e8212d"/>
<text x="1711.8" y="1079.4" font-size="19.6">CzAcSF:[DDPACDBFDP]<tspan font-size="61%" font-weight="bold">2</tspan>Cu<tspan font-size="61%" font-weight="bold">4</tspan>I<tspan font-size="61%" font-weight="bold">4</tspan></text>
<circle cx="1700" cy="1073.9" r="6.3" fill="#7d1322"/>
<text x="1711" y="1104.4" font-size="19.6">TmPyPB:[TMeOPP]<tspan font-size="61%" font-weight="bold">4</tspan>Cu<tspan font-size="61%" font-weight="bold">4</tspan>I<tspan font-size="61%" font-weight="bold">4</tspan></text>
<polygon points="1700,1105.2 1707,1092.6 1693,1092.6" fill="#0a7a40"/>
<text x="1711" y="1127.9" font-size="19.6">Tbrb:[TPP]<tspan font-size="61%" font-weight="bold">4</tspan>Cu<tspan font-size="61%" font-weight="bold">4</tspan>I<tspan font-size="61%" font-weight="bold">4</tspan></text>
<polygon points="1700,1114.1 1707.3,1121.4 1700,1128.7 1692.7,1121.4" fill="#b87ab8"/>
<text x="1712.4" y="1150.6" font-size="19.6">TCTA:Cu<tspan font-size="61%" font-weight="bold">2</tspan>Au<tspan font-size="61%" font-weight="bold">2</tspan>(R-BTT)<tspan font-size="61%" font-weight="bold">4</tspan></text>
<polygon points="1693.4,1145.1 1706,1138.1 1706,1152.1" fill="#b3b5b7"/>
<text x="1712.4" y="1171.5" font-size="19.6">DMIC-TRZ: ICuDBC</text>
<polygon points="1700,1160 1695,1162.8 1695,1168.6 1700,1171.5 1705,1168.6 1705,1162.8" fill="#fff" stroke="#4a9e7a" stroke-width="1.5"/>
<text x="1710.6" y="1196.7" font-size="19.6">BCPO:[tBCzDppy]<tspan font-size="61%" font-weight="bold">2</tspan>Cu<tspan font-size="61%" font-weight="bold">4</tspan>I<tspan font-size="61%" font-weight="bold">4</tspan></text>
<polygon points="1707.4,1189.7 1694.8,1182.7 1694.8,1196.7" fill="#5a1a6f"/>
<text x="1712.4" y="1220.7" font-size="19.6">CuI-Pyrphos</text>
<polygon points="1693.4,1214.7 1706,1207.7 1706,1221.7" fill="#8a1525"/>
<text x="1712.4" y="1244.6" font-size="19.6">mCP:PhQPCu<tspan font-size="61%" font-weight="bold">3</tspan>I<tspan font-size="61%" font-weight="bold">3</tspan></text>
<polygon points="1701,1232.4 1695.4,1235.7 1695.4,1242.2 1701,1245.4 1706.6,1242.2 1706.6,1235.7" fill="#4ab8d0"/>
<text x="1849.6" y="863.8" font-size="19.6">mCP:S-ql-I</text>
</g>
</svg>
</body>
</html>
